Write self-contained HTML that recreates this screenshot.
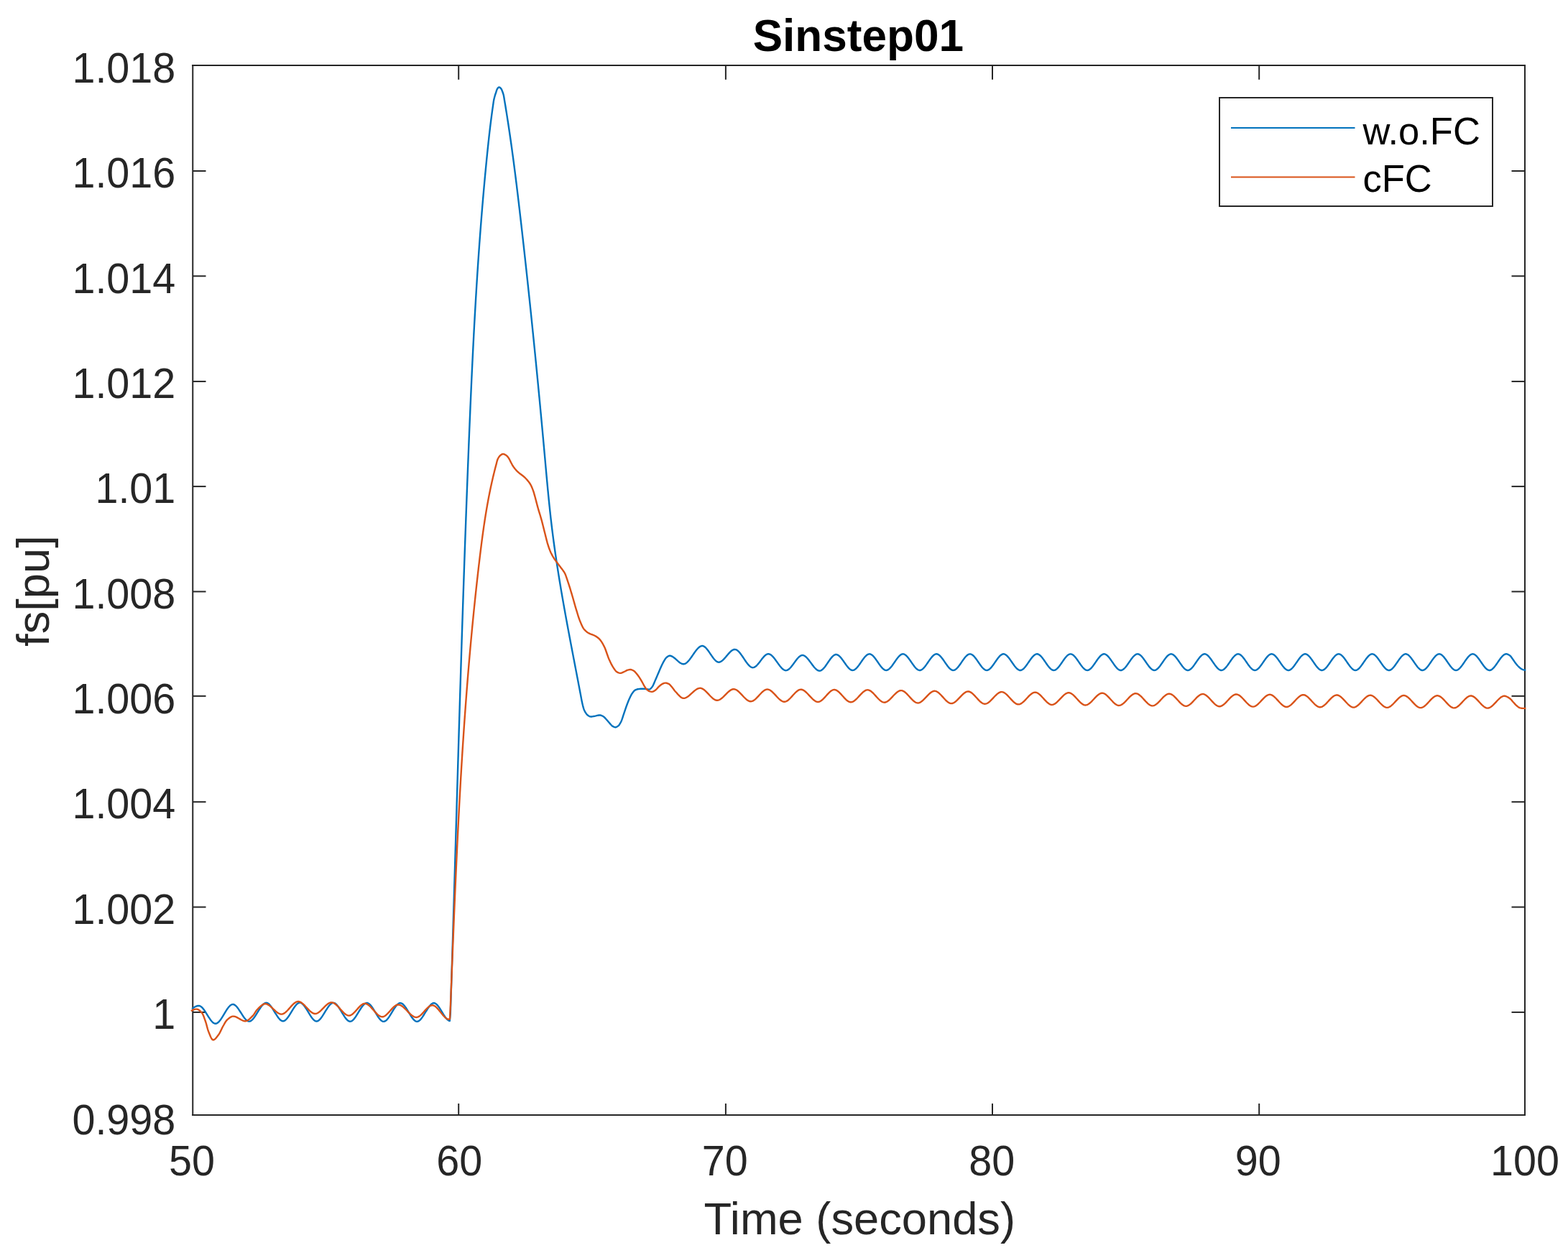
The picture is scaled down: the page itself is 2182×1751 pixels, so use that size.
<!DOCTYPE html>
<html lang="en"><head><meta charset="utf-8"><title>Sinstep01</title>
<style>html,body{margin:0;padding:0;background:#fff;overflow:hidden}svg{display:block}text{font-family:'Liberation Sans', Arial, Helvetica, sans-serif;fill:#262626}.k{fill:#000}</style></head><body>
<svg width="2182" height="1751" viewBox="0 0 2182 1751" role="img" aria-label="Sinstep01: fs[pu] versus Time (seconds)">
<rect x="0" y="0" width="2182" height="1751" fill="#ffffff"/>
<g stroke="#262626" stroke-width="2.00" fill="none">
<path shape-rendering="crispEdges" d="M267.0 91.0H2122.0V1552.0H267.0"/>
<line x1="268.25" y1="90.0" x2="268.25" y2="1553.0"/>
<line x1="638.20" y1="1552.0" x2="638.20" y2="1536.0"/>
<line x1="638.20" y1="91.0" x2="638.20" y2="110.8"/>
<line x1="1009.90" y1="1552.0" x2="1009.90" y2="1536.0"/>
<line x1="1009.90" y1="91.0" x2="1009.90" y2="110.8"/>
<line x1="1381.00" y1="1552.0" x2="1381.00" y2="1536.0"/>
<line x1="1381.00" y1="91.0" x2="1381.00" y2="110.8"/>
<line x1="1752.20" y1="1552.0" x2="1752.20" y2="1536.0"/>
<line x1="1752.20" y1="91.0" x2="1752.20" y2="110.8"/>
<line x1="268.0" y1="1408.93" x2="286.5" y2="1408.93"/>
<line x1="2122.0" y1="1408.93" x2="2103.5" y2="1408.93"/>
<line x1="268.0" y1="1262.55" x2="286.5" y2="1262.55"/>
<line x1="2122.0" y1="1262.55" x2="2103.5" y2="1262.55"/>
<line x1="268.0" y1="1116.20" x2="286.5" y2="1116.20"/>
<line x1="2122.0" y1="1116.20" x2="2103.5" y2="1116.20"/>
<line x1="268.0" y1="968.85" x2="286.5" y2="968.85"/>
<line x1="2122.0" y1="968.85" x2="2103.5" y2="968.85"/>
<line x1="268.0" y1="823.45" x2="286.5" y2="823.45"/>
<line x1="2122.0" y1="823.45" x2="2103.5" y2="823.45"/>
<line x1="268.0" y1="677.10" x2="286.5" y2="677.10"/>
<line x1="2122.0" y1="677.10" x2="2103.5" y2="677.10"/>
<line x1="268.0" y1="530.93" x2="286.5" y2="530.93"/>
<line x1="2122.0" y1="530.93" x2="2103.5" y2="530.93"/>
<line x1="268.0" y1="384.30" x2="286.5" y2="384.30"/>
<line x1="2122.0" y1="384.30" x2="2103.5" y2="384.30"/>
<line x1="268.0" y1="238.00" x2="286.5" y2="238.00"/>
<line x1="2122.0" y1="238.00" x2="2103.5" y2="238.00"/>
</g>
<g>
<text transform="translate(267.10 1636.40) scale(1 1.02)" font-size="57.50" text-anchor="middle">50</text>
<text transform="translate(639.30 1636.40) scale(1 1.02)" font-size="57.50" text-anchor="middle">60</text>
<text transform="translate(1008.70 1636.40) scale(1 1.02)" font-size="57.50" text-anchor="middle">70</text>
<text transform="translate(1380.20 1636.40) scale(1 1.02)" font-size="57.50" text-anchor="middle">80</text>
<text transform="translate(1750.80 1636.40) scale(1 1.02)" font-size="57.50" text-anchor="middle">90</text>
<text transform="translate(2122.00 1636.40) scale(1 1.02)" font-size="57.50" text-anchor="middle">100</text>
<text transform="translate(244.30 1578.60) scale(1 1.02)" font-size="57.50" text-anchor="end">0.998</text>
<text transform="translate(244.30 1432.23) scale(1 1.02)" font-size="57.50" text-anchor="end">1</text>
<text transform="translate(244.30 1285.86) scale(1 1.02)" font-size="57.50" text-anchor="end">1.002</text>
<text transform="translate(244.30 1139.49) scale(1 1.02)" font-size="57.50" text-anchor="end">1.004</text>
<text transform="translate(244.30 993.12) scale(1 1.02)" font-size="57.50" text-anchor="end">1.006</text>
<text transform="translate(244.30 846.75) scale(1 1.02)" font-size="57.50" text-anchor="end">1.008</text>
<text transform="translate(244.30 700.38) scale(1 1.02)" font-size="57.50" text-anchor="end">1.01</text>
<text transform="translate(244.30 554.01) scale(1 1.02)" font-size="57.50" text-anchor="end">1.012</text>
<text transform="translate(244.30 407.64) scale(1 1.02)" font-size="57.50" text-anchor="end">1.014</text>
<text transform="translate(244.30 261.27) scale(1 1.02)" font-size="57.50" text-anchor="end">1.016</text>
<text transform="translate(244.30 114.90) scale(1 1.02)" font-size="57.50" text-anchor="end">1.018</text>
</g>
<text transform="translate(1196.30 1717.50)" font-size="63.25" text-anchor="middle">Time (seconds)</text>
<text transform="translate(68.40 822.60) rotate(-90)" font-size="63.25" text-anchor="middle">fs[pu]</text>
<text transform="translate(1194.30 70.60) scale(1 1.025)" font-size="62.10" text-anchor="middle" font-weight="bold" class="k">Sinstep01</text>
<g fill="none" stroke-width="2.4" stroke-linejoin="round" stroke-linecap="butt">
<path stroke="#0072BD" d="M267.20 1404.50L268.20 1403.61L269.20 1402.81L270.20 1402.10L271.20 1401.48L272.20 1400.97L273.20 1400.55L274.20 1400.23L275.20 1400.02L276.20 1399.91L277.20 1399.93L278.20 1400.20L279.20 1400.71L280.20 1401.43L281.20 1402.35L282.20 1403.43L283.12 1404.57L283.99 1405.74L284.83 1406.93L285.64 1408.15L286.43 1409.37L287.21 1410.61L287.98 1411.84L288.75 1413.08L289.52 1414.30L290.29 1415.52L291.07 1416.72L291.86 1417.91L292.68 1419.06L293.52 1420.18L294.39 1421.26L295.32 1422.27L296.31 1423.19L297.31 1423.94L298.31 1424.46L299.31 1424.75L300.31 1424.78L301.31 1424.54L302.31 1424.05L303.31 1423.34L304.31 1422.43L305.31 1421.35L306.23 1420.21L307.10 1419.03L307.93 1417.83L308.74 1416.60L309.52 1415.36L310.29 1414.12L311.04 1412.86L311.79 1411.61L312.54 1410.36L313.29 1409.11L314.04 1407.88L314.81 1406.66L315.58 1405.45L316.38 1404.27L317.19 1403.13L318.04 1402.02L318.93 1400.97L319.88 1399.99L320.88 1399.14L321.88 1398.49L322.88 1398.07L323.88 1397.90L324.88 1398.00L325.88 1398.36L326.88 1398.95L327.88 1399.75L328.88 1400.72L329.85 1401.82L330.76 1402.97L331.62 1404.14L332.45 1405.34L333.26 1406.55L334.06 1407.77L334.84 1409.00L335.62 1410.22L336.40 1411.44L337.18 1412.65L337.97 1413.84L338.77 1415.02L339.59 1416.16L340.44 1417.27L341.33 1418.33L342.27 1419.33L343.27 1420.23L344.27 1420.94L345.27 1421.43L346.27 1421.67L347.27 1421.66L348.27 1421.38L349.27 1420.86L350.27 1420.13L351.27 1419.21L352.26 1418.12L353.18 1416.98L354.05 1415.81L354.89 1414.61L355.70 1413.39L356.49 1412.16L357.26 1410.93L358.03 1409.68L358.79 1408.44L359.55 1407.21L360.31 1405.98L361.08 1404.76L361.86 1403.56L362.66 1402.38L363.48 1401.23L364.33 1400.13L365.21 1399.07L366.15 1398.08L367.15 1397.19L368.15 1396.51L369.15 1396.04L370.15 1395.82L371.15 1395.86L372.15 1396.17L373.15 1396.72L374.15 1397.48L375.15 1398.44L376.13 1399.54L377.04 1400.69L377.90 1401.88L378.72 1403.08L379.52 1404.31L380.30 1405.54L381.07 1406.79L381.83 1408.03L382.59 1409.27L383.35 1410.51L384.11 1411.74L384.88 1412.95L385.67 1414.15L386.47 1415.31L387.30 1416.45L388.16 1417.54L389.06 1418.57L390.03 1419.52L391.03 1420.31L392.03 1420.88L393.03 1421.22L394.03 1421.29L395.03 1421.09L396.03 1420.64L397.03 1419.96L398.03 1419.08L399.03 1418.02L399.97 1416.89L400.84 1415.72L401.68 1414.52L402.49 1413.30L403.28 1412.07L404.05 1410.82L404.81 1409.58L405.57 1408.33L406.33 1407.09L407.08 1405.86L407.85 1404.63L408.62 1403.43L409.41 1402.24L410.23 1401.09L411.07 1399.97L411.95 1398.90L412.88 1397.91L413.88 1397.01L414.88 1396.31L415.88 1395.84L416.88 1395.61L417.88 1395.66L418.88 1395.98L419.88 1396.55L420.88 1397.33L421.88 1398.31L422.84 1399.42L423.74 1400.58L424.60 1401.77L425.41 1402.99L426.21 1404.22L426.98 1405.46L427.74 1406.71L428.50 1407.96L429.25 1409.21L430.00 1410.46L430.75 1411.69L431.51 1412.92L432.29 1414.12L433.08 1415.30L433.90 1416.44L434.75 1417.55L435.64 1418.59L436.59 1419.56L437.59 1420.39L438.59 1421.01L439.59 1421.39L440.59 1421.50L441.59 1421.34L442.59 1420.92L443.59 1420.27L444.59 1419.41L445.59 1418.38L446.54 1417.25L447.42 1416.08L448.26 1414.89L449.08 1413.67L449.87 1412.44L450.64 1411.20L451.41 1409.96L452.16 1408.71L452.92 1407.47L453.68 1406.23L454.44 1405.01L455.21 1403.80L456.00 1402.61L456.81 1401.45L457.65 1400.33L458.52 1399.25L459.44 1398.24L460.43 1397.33L461.43 1396.60L462.43 1396.09L463.43 1395.83L464.43 1395.84L465.43 1396.12L466.43 1396.65L467.43 1397.41L468.43 1398.37L469.41 1399.47L470.31 1400.63L471.17 1401.82L471.99 1403.03L472.79 1404.26L473.56 1405.50L474.32 1406.75L475.08 1408.01L475.82 1409.26L476.57 1410.51L477.32 1411.75L478.08 1412.97L478.85 1414.18L479.64 1415.37L480.45 1416.52L481.29 1417.64L482.18 1418.70L483.11 1419.68L484.11 1420.55L485.11 1421.21L486.11 1421.64L487.11 1421.80L488.11 1421.68L489.11 1421.31L490.11 1420.70L491.11 1419.88L492.11 1418.86L493.07 1417.75L493.96 1416.59L494.81 1415.39L495.62 1414.18L496.42 1412.95L497.19 1411.71L497.95 1410.46L498.71 1409.21L499.47 1407.97L500.22 1406.73L500.98 1405.50L501.75 1404.28L502.53 1403.09L503.33 1401.92L504.16 1400.79L505.02 1399.70L505.93 1398.67L506.90 1397.73L507.90 1396.95L508.90 1396.39L509.90 1396.07L510.90 1396.01L511.90 1396.24L512.90 1396.72L513.90 1397.43L514.90 1398.34L515.90 1399.43L516.82 1400.58L517.68 1401.76L518.51 1402.97L519.30 1404.20L520.08 1405.44L520.85 1406.69L521.60 1407.95L522.35 1409.20L523.10 1410.45L523.85 1411.69L524.61 1412.92L525.37 1414.13L526.16 1415.32L526.96 1416.48L527.80 1417.60L528.68 1418.67L529.61 1419.67L530.61 1420.56L531.61 1421.25L532.61 1421.70L533.61 1421.89L534.61 1421.81L535.61 1421.46L536.61 1420.87L537.61 1420.06L538.61 1419.06L539.56 1417.94L540.46 1416.78L541.31 1415.59L542.12 1414.38L542.91 1413.14L543.69 1411.90L544.45 1410.65L545.21 1409.40L545.96 1408.16L546.71 1406.91L547.47 1405.68L548.23 1404.46L549.01 1403.27L549.81 1402.09L550.64 1400.96L551.49 1399.86L552.40 1398.83L553.36 1397.88L554.36 1397.08L555.36 1396.51L556.36 1396.18L557.36 1396.11L558.36 1396.32L559.36 1396.79L560.36 1397.49L561.36 1398.39L562.36 1399.48L563.28 1400.62L564.15 1401.80L564.98 1403.01L565.78 1404.24L566.56 1405.47L567.33 1406.72L568.08 1407.97L568.84 1409.23L569.59 1410.47L570.34 1411.71L571.10 1412.94L571.87 1414.15L572.65 1415.34L573.46 1416.50L574.30 1417.61L575.18 1418.68L576.11 1419.68L577.11 1420.57L578.11 1421.25L579.11 1421.70L580.11 1421.89L581.11 1421.81L582.11 1421.47L583.11 1420.88L584.11 1420.09L585.11 1419.10L586.07 1417.99L586.97 1416.84L587.83 1415.65L588.65 1414.44L589.45 1413.22L590.23 1411.98L590.99 1410.74L591.75 1409.49L592.51 1408.24L593.27 1407.01L594.03 1405.78L594.80 1404.56L595.58 1403.37L596.38 1402.20L597.20 1401.06L598.06 1399.96L598.96 1398.93L599.93 1397.97L600.93 1397.16L601.93 1396.57L602.93 1396.20L603.93 1396.10L604.93 1396.28L605.93 1396.73L606.93 1397.41L607.93 1398.31L608.93 1399.39L609.85 1400.53L610.72 1401.71L611.55 1402.92L612.35 1404.15L613.13 1405.39L613.89 1406.63L614.65 1407.88L615.40 1409.13L616.15 1410.38L616.91 1411.61L617.68 1412.83L618.45 1414.03L619.25 1415.20L620.07 1416.34L620.93 1417.43L621.84 1418.45L622.81 1419.39L623.81 1420.15L624.81 1420.69L625.81 1420.97L626.81 1410.63L626.89 1408.14L626.97 1405.65L627.05 1403.15L627.13 1400.65L627.21 1398.14L627.29 1395.63L627.37 1393.12L627.45 1390.60L627.53 1388.08L627.61 1385.56L627.69 1383.03L627.77 1380.50L627.85 1377.96L627.93 1375.42L628.01 1372.88L628.09 1370.34L628.17 1367.79L628.25 1365.23L628.33 1362.68L628.41 1360.12L628.49 1357.55L628.57 1354.99L628.65 1352.42L628.73 1349.84L628.81 1347.27L628.89 1344.69L628.97 1342.10L629.05 1339.52L629.13 1336.93L629.21 1334.33L629.29 1331.74L629.37 1329.14L629.45 1326.54L629.53 1323.93L629.61 1321.32L629.69 1318.71L629.77 1316.10L629.85 1313.48L629.93 1310.86L630.01 1308.24L630.09 1305.62L630.17 1302.99L630.25 1300.36L630.33 1297.72L630.41 1295.09L630.49 1292.45L630.57 1289.81L630.65 1287.16L630.73 1284.52L630.81 1281.87L630.89 1279.22L630.97 1276.57L631.05 1273.91L631.13 1271.25L631.21 1268.59L631.29 1265.93L631.37 1263.27L631.45 1260.60L631.53 1257.93L631.61 1255.26L631.69 1252.59L631.77 1249.92L631.85 1247.24L631.93 1244.56L632.01 1241.88L632.09 1239.20L632.17 1236.52L632.25 1233.83L632.33 1231.15L632.41 1228.46L632.49 1225.77L632.57 1223.08L632.65 1220.39L632.73 1217.70L632.81 1215.00L632.89 1212.31L632.97 1209.61L633.05 1206.91L633.13 1204.21L633.21 1201.51L633.29 1198.81L633.37 1196.11L633.45 1193.41L633.53 1190.70L633.61 1188.00L633.69 1185.29L633.77 1182.59L633.85 1179.88L633.93 1177.17L634.01 1174.47L634.09 1171.76L634.17 1169.05L634.25 1166.34L634.33 1163.63L634.41 1160.92L634.49 1158.21L634.57 1155.50L634.65 1152.79L634.73 1150.08L634.81 1147.37L634.89 1144.66L634.97 1141.95L635.05 1139.24L635.13 1136.53L635.21 1133.83L635.29 1131.12L635.37 1128.41L635.45 1125.70L635.53 1122.99L635.61 1120.29L635.69 1117.58L635.77 1114.87L635.85 1112.17L635.93 1109.46L636.01 1106.76L636.09 1104.06L636.17 1101.36L636.25 1098.66L636.33 1095.96L636.41 1093.26L636.49 1090.56L636.57 1087.86L636.65 1085.17L636.73 1082.47L636.81 1079.78L636.89 1077.09L636.97 1074.40L637.05 1071.71L637.13 1069.02L637.21 1066.34L637.29 1063.65L637.37 1060.97L637.45 1058.29L637.53 1055.61L637.61 1052.93L637.69 1050.26L637.77 1047.58L637.85 1044.91L637.93 1042.24L638.01 1039.57L638.09 1036.91L638.17 1034.24L638.25 1031.58L638.33 1028.92L638.41 1026.27L638.49 1023.61L638.57 1020.96L638.65 1018.31L638.73 1015.66L638.81 1013.01L638.89 1010.37L638.97 1007.73L639.05 1005.09L639.13 1002.46L639.21 999.82L639.29 997.19L639.37 994.57L639.45 991.94L639.53 989.32L639.61 986.70L639.69 984.08L639.77 981.47L639.85 978.86L639.93 976.25L640.01 973.65L640.09 971.05L640.17 968.45L640.25 965.85L640.33 963.26L640.41 960.67L640.49 958.09L640.57 955.50L640.65 952.92L640.73 950.35L640.81 947.78L640.89 945.21L640.97 942.64L641.05 940.08L641.13 937.52L641.21 934.96L641.29 932.41L641.37 929.86L641.45 927.32L641.53 924.77L641.61 922.24L641.69 919.70L641.77 917.17L641.85 914.64L641.93 912.12L642.01 909.60L642.09 907.08L642.17 904.57L642.25 902.06L642.33 899.56L642.41 897.06L642.49 894.56L642.57 892.07L642.65 889.58L642.73 887.09L642.81 884.61L642.89 882.13L642.97 879.66L643.05 877.19L643.13 874.73L643.21 872.26L643.29 869.81L643.37 867.35L643.45 864.90L643.53 862.46L643.61 860.02L643.69 857.58L643.77 855.15L643.85 852.72L643.93 850.29L644.01 847.87L644.09 845.45L644.17 843.04L644.25 840.63L644.33 838.23L644.41 835.83L644.49 833.43L644.57 831.04L644.65 828.65L644.73 826.27L644.81 823.89L644.89 821.52L644.97 819.15L645.05 816.78L645.13 814.42L645.21 812.06L645.29 809.71L645.37 807.36L645.45 805.02L645.53 802.68L645.61 800.34L645.69 798.01L645.77 795.68L645.85 793.36L645.93 791.04L646.01 788.73L646.09 786.42L646.17 784.11L646.25 781.81L646.33 779.51L646.41 777.22L646.49 774.93L646.57 772.65L646.65 770.37L646.73 768.09L646.81 765.82L646.89 763.56L646.97 761.29L647.05 759.04L647.13 756.78L647.21 754.53L647.29 752.29L647.37 750.05L647.45 747.81L647.53 745.58L647.61 743.35L647.69 741.13L647.77 738.91L647.85 736.70L647.93 734.49L648.01 732.28L648.09 730.08L648.17 727.89L648.25 725.69L648.33 723.51L648.41 721.32L648.49 719.14L648.57 716.97L648.65 714.80L648.73 712.63L648.81 710.47L648.89 708.31L648.97 706.16L649.05 704.01L649.13 701.86L649.21 699.72L649.29 697.59L649.37 695.45L649.45 693.33L649.53 691.20L649.61 689.08L649.69 686.97L649.77 684.86L649.85 682.75L649.93 680.65L650.01 678.55L650.09 676.46L650.17 674.37L650.25 672.28L650.33 670.20L650.41 668.12L650.49 666.05L650.57 663.98L650.65 661.92L650.73 659.86L650.81 657.80L650.89 655.75L650.97 653.70L651.05 651.66L651.13 649.62L651.21 647.58L651.29 645.55L651.37 643.52L651.45 641.50L651.53 639.48L651.61 637.46L651.69 635.45L651.77 633.44L651.85 631.44L651.93 629.44L652.01 627.45L652.09 625.46L652.17 623.47L652.25 621.49L652.33 619.51L652.41 617.53L652.49 615.56L652.57 613.60L652.65 611.63L652.73 609.67L652.81 607.72L652.89 605.77L652.97 603.82L653.05 601.88L653.13 599.94L653.21 598.00L653.29 596.07L653.37 594.15L653.45 592.23L653.53 590.31L653.61 588.39L653.69 586.48L653.77 584.56L653.85 582.64L653.94 580.73L654.02 578.81L654.10 576.89L654.18 574.98L654.26 573.06L654.34 571.15L654.43 569.23L654.51 567.32L654.59 565.40L654.67 563.49L654.76 561.57L654.84 559.66L654.93 557.75L655.01 555.83L655.09 553.92L655.18 552.01L655.26 550.10L655.35 548.18L655.43 546.27L655.52 544.36L655.60 542.45L655.69 540.54L655.78 538.63L655.86 536.72L655.95 534.81L656.04 532.90L656.12 530.99L656.21 529.08L656.30 527.17L656.39 525.27L656.48 523.36L656.57 521.45L656.66 519.54L656.75 517.64L656.84 515.73L656.93 513.83L657.02 511.92L657.11 510.01L657.20 508.11L657.29 506.20L657.38 504.30L657.48 502.40L657.57 500.49L657.66 498.59L657.75 496.69L657.85 494.79L657.94 492.88L658.04 490.98L658.13 489.08L658.23 487.18L658.32 485.28L658.42 483.38L658.52 481.48L658.61 479.58L658.71 477.68L658.81 475.78L658.91 473.89L659.00 471.99L659.10 470.09L659.20 468.20L659.30 466.30L659.40 464.40L659.50 462.51L659.60 460.61L659.70 458.72L659.81 456.83L659.91 454.93L660.01 453.04L660.11 451.15L660.22 449.25L660.32 447.36L660.43 445.47L660.53 443.58L660.64 441.69L660.74 439.80L660.85 437.91L660.96 436.02L661.06 434.13L661.17 432.25L661.28 430.36L661.39 428.47L661.50 426.59L661.61 424.70L661.72 422.81L661.83 420.93L661.94 419.05L662.05 417.16L662.16 415.28L662.28 413.40L662.39 411.51L662.50 409.63L662.62 407.75L662.73 405.87L662.85 403.99L662.96 402.11L663.08 400.23L663.19 398.35L663.31 396.47L663.43 394.60L663.55 392.72L663.67 390.84L663.79 388.97L663.91 387.09L664.03 385.22L664.15 383.34L664.27 381.47L664.39 379.60L664.52 377.72L664.64 375.85L664.76 373.98L664.89 372.11L665.01 370.24L665.14 368.37L665.27 366.50L665.39 364.63L665.52 362.76L665.65 360.90L665.78 359.03L665.91 357.16L666.04 355.30L666.17 353.43L666.30 351.57L666.43 349.71L666.56 347.84L666.69 345.98L666.83 344.12L666.96 342.26L667.10 340.40L667.23 338.54L667.37 336.68L667.51 334.82L667.64 332.96L667.78 331.10L667.92 329.25L668.06 327.39L668.20 325.53L668.34 323.68L668.48 321.83L668.62 319.97L668.76 318.12L668.91 316.27L669.05 314.42L669.20 312.56L669.34 310.71L669.49 308.86L669.63 307.02L669.78 305.17L669.93 303.32L670.08 301.47L670.23 299.63L670.38 297.78L670.53 295.94L670.68 294.09L670.83 292.25L670.98 290.41L671.13 288.56L671.29 286.72L671.44 284.88L671.60 283.04L671.76 281.20L671.91 279.36L672.07 277.52L672.23 275.69L672.39 273.85L672.55 272.02L672.71 270.18L672.87 268.35L673.03 266.51L673.19 264.68L673.36 262.85L673.52 261.02L673.68 259.18L673.85 257.35L674.02 255.53L674.18 253.70L674.35 251.87L674.52 250.04L674.69 248.22L674.86 246.39L675.03 244.57L675.20 242.74L675.37 240.92L675.55 239.10L675.72 237.27L675.89 235.45L676.07 233.63L676.25 231.81L676.42 229.99L676.60 228.18L676.78 226.36L676.96 224.54L677.14 222.73L677.32 220.91L677.50 219.10L677.68 217.28L677.87 215.47L678.05 213.66L678.23 211.85L678.42 210.04L678.61 208.24L678.80 206.43L678.98 204.62L679.17 202.82L679.37 201.02L679.56 199.22L679.75 197.42L679.95 195.62L680.15 193.83L680.34 192.03L680.54 190.24L680.75 188.45L680.95 186.66L681.15 184.87L681.36 183.09L681.57 181.31L681.78 179.52L681.99 177.74L682.20 175.97L682.42 174.19L682.64 172.42L682.86 170.65L683.08 168.88L683.30 167.11L683.53 165.35L683.76 163.59L683.99 161.83L684.22 160.07L684.46 158.32L684.69 156.56L684.93 154.81L685.18 153.07L685.42 151.32L685.67 149.58L685.92 147.84L686.17 146.10L686.42 144.30L686.66 142.56L686.91 140.89L687.18 139.37L687.53 137.79L687.90 136.23L688.30 134.71L688.73 133.21L689.19 131.73L689.68 130.25L690.18 128.76L690.68 127.23L691.16 125.71L691.66 124.35L692.26 123.35L693.10 122.30L694.07 121.53L695.07 121.48L696.07 122.12L697.07 123.18L697.98 124.49L698.65 126.06L699.20 127.54L699.75 129.00L700.28 130.58L700.75 132.28L701.15 134.21L701.45 136.03L701.72 137.78L701.99 139.46L702.28 141.16L702.56 142.88L702.85 144.60L703.14 146.32L703.42 148.04L703.70 149.76L703.98 151.49L704.26 153.21L704.54 154.94L704.82 156.67L705.09 158.40L705.37 160.13L705.64 161.86L705.91 163.59L706.18 165.32L706.45 167.06L706.72 168.79L706.99 170.53L707.25 172.27L707.52 174.01L707.78 175.75L708.04 177.49L708.30 179.24L708.56 180.98L708.82 182.73L709.08 184.48L709.34 186.22L709.59 187.97L709.85 189.72L710.10 191.47L710.35 193.23L710.60 194.98L710.85 196.73L711.10 198.49L711.35 200.25L711.59 202.00L711.84 203.76L712.08 205.52L712.33 207.28L712.57 209.04L712.81 210.81L713.05 212.57L713.29 214.33L713.53 216.10L713.77 217.86L714.01 219.63L714.24 221.40L714.48 223.17L714.71 224.94L714.95 226.71L715.18 228.48L715.41 230.25L715.64 232.02L715.87 233.80L716.10 235.57L716.33 237.35L716.55 239.12L716.78 240.90L717.01 242.68L717.23 244.46L717.46 246.24L717.68 248.01L717.90 249.80L718.13 251.58L718.35 253.36L718.57 255.14L718.79 256.92L719.01 258.71L719.23 260.49L719.44 262.28L719.66 264.06L719.88 265.85L720.10 267.63L720.31 269.42L720.53 271.21L720.74 272.99L720.96 274.78L721.17 276.57L721.38 278.36L721.59 280.15L721.81 281.94L722.02 283.73L722.23 285.52L722.44 287.31L722.65 289.11L722.86 290.90L723.07 292.69L723.28 294.48L723.49 296.28L723.70 298.07L723.90 299.86L724.11 301.66L724.32 303.45L724.52 305.25L724.73 307.04L724.94 308.84L725.14 310.63L725.35 312.43L725.56 314.22L725.76 316.02L725.97 317.82L726.17 319.61L726.37 321.41L726.58 323.21L726.78 325.00L726.99 326.80L727.19 328.60L727.39 330.40L727.60 332.20L727.80 333.99L728.00 335.79L728.20 337.59L728.40 339.39L728.61 341.19L728.81 342.99L729.01 344.79L729.21 346.59L729.41 348.39L729.61 350.19L729.81 351.99L730.01 353.80L730.21 355.60L730.41 357.40L730.61 359.20L730.81 361.00L731.01 362.81L731.20 364.61L731.40 366.41L731.60 368.22L731.80 370.02L731.99 371.82L732.19 373.63L732.39 375.43L732.58 377.24L732.78 379.04L732.98 380.85L733.17 382.65L733.37 384.46L733.56 386.27L733.76 388.07L733.95 389.88L734.15 391.68L734.34 393.49L734.54 395.30L734.73 397.11L734.92 398.91L735.12 400.72L735.31 402.53L735.50 404.34L735.70 406.15L735.89 407.96L736.08 409.76L736.27 411.57L736.46 413.38L736.66 415.19L736.85 417.00L737.04 418.81L737.23 420.62L737.42 422.44L737.61 424.25L737.80 426.06L737.99 427.87L738.18 429.68L738.37 431.49L738.56 433.31L738.75 435.12L738.93 436.93L739.12 438.74L739.31 440.56L739.50 442.37L739.69 444.18L739.87 446.00L740.06 447.81L740.25 449.63L740.43 451.44L740.62 453.26L740.81 455.07L740.99 456.89L741.18 458.70L741.36 460.52L741.55 462.33L741.73 464.15L741.92 465.97L742.10 467.78L742.29 469.60L742.47 471.42L742.66 473.23L742.84 475.05L743.02 476.87L743.21 478.69L743.39 480.50L743.57 482.32L743.75 484.14L743.94 485.96L744.12 487.78L744.30 489.60L744.48 491.42L744.66 493.24L744.85 495.06L745.03 496.88L745.21 498.70L745.39 500.52L745.57 502.34L745.75 504.16L745.93 505.98L746.11 507.81L746.29 509.63L746.47 511.45L746.65 513.27L746.82 515.09L747.00 516.92L747.18 518.74L747.36 520.56L747.54 522.39L747.71 524.21L747.89 526.03L748.07 527.86L748.25 529.68L748.42 531.51L748.60 533.33L748.78 535.16L748.95 536.98L749.13 538.81L749.30 540.63L749.48 542.46L749.65 544.28L749.83 546.11L750.00 547.93L750.18 549.76L750.35 551.59L750.53 553.41L750.70 555.24L750.88 557.07L751.05 558.90L751.22 560.72L751.40 562.55L751.57 564.38L751.74 566.21L751.91 568.04L752.09 569.87L752.26 571.70L752.43 573.52L752.60 575.35L752.77 577.18L752.95 579.01L753.12 580.84L753.29 582.67L753.46 584.50L753.63 586.34L753.80 588.17L753.97 590.00L754.14 591.83L754.31 593.66L754.48 595.49L754.65 597.32L754.82 599.16L754.99 600.99L755.16 602.82L755.32 604.65L755.49 606.49L755.66 608.32L755.83 610.15L756.00 611.98L756.16 613.82L756.33 615.65L756.50 617.49L756.67 619.32L756.83 621.15L757.00 622.99L757.17 624.82L757.33 626.66L757.50 628.49L757.66 630.33L757.83 632.16L757.99 634.00L758.16 635.84L758.33 637.67L758.49 639.51L758.66 641.34L758.82 643.18L758.98 645.01L759.15 646.85L759.31 648.68L759.48 650.51L759.65 652.35L759.81 654.18L759.98 656.01L760.14 657.84L760.31 659.67L760.48 661.51L760.64 663.34L760.81 665.17L760.98 666.99L761.15 668.82L761.32 670.65L761.49 672.47L761.66 674.30L761.83 676.12L762.00 677.95L762.18 679.77L762.35 681.59L762.53 683.41L762.70 685.23L762.88 687.04L763.06 688.86L763.24 690.68L763.42 692.49L763.60 694.30L763.78 696.11L763.96 697.92L764.15 699.73L764.33 701.54L764.52 703.35L764.71 705.15L764.90 706.95L765.09 708.75L765.28 710.55L765.48 712.35L765.67 714.15L765.87 715.94L766.07 717.74L766.27 719.53L766.47 721.32L766.67 723.10L766.88 724.89L767.09 726.67L767.30 728.46L767.51 730.24L767.72 732.02L767.94 733.79L768.15 735.57L768.37 737.34L768.59 739.11L768.81 740.88L769.04 742.65L769.26 744.41L769.49 746.18L769.72 747.94L769.95 749.70L770.19 751.46L770.42 753.22L770.66 754.97L770.90 756.73L771.14 758.48L771.38 760.23L771.62 761.98L771.87 763.73L772.11 765.48L772.36 767.22L772.61 768.96L772.86 770.71L773.12 772.45L773.37 774.19L773.63 775.92L773.89 777.66L774.14 779.40L774.41 781.13L774.67 782.86L774.93 784.60L775.20 786.33L775.46 788.05L775.73 789.78L776.00 791.51L776.27 793.23L776.54 794.96L776.81 796.68L777.08 798.40L777.36 800.12L777.64 801.84L777.91 803.56L778.19 805.28L778.47 806.99L778.75 808.71L779.04 810.42L779.32 812.14L779.60 813.85L779.89 815.56L780.17 817.27L780.46 818.98L780.75 820.68L781.04 822.39L781.33 824.10L781.62 825.80L781.92 827.51L782.21 829.21L782.50 830.91L782.80 832.61L783.10 834.31L783.39 836.01L783.69 837.71L783.99 839.41L784.29 841.11L784.59 842.80L784.89 844.50L785.19 846.20L785.50 847.89L785.80 849.58L786.11 851.28L786.41 852.97L786.72 854.66L787.02 856.35L787.33 858.04L787.64 859.73L787.95 861.42L788.26 863.11L788.57 864.80L788.88 866.48L789.19 868.17L789.50 869.86L789.81 871.54L790.13 873.23L790.44 874.91L790.76 876.60L791.07 878.28L791.38 879.96L791.70 881.65L792.02 883.33L792.33 885.01L792.65 886.70L792.97 888.38L793.28 890.06L793.60 891.74L793.92 893.42L794.24 895.10L794.56 896.78L794.88 898.46L795.20 900.14L795.52 901.82L795.84 903.50L796.16 905.18L796.48 906.86L796.80 908.53L797.12 910.21L797.44 911.89L797.76 913.57L798.08 915.25L798.40 916.93L798.73 918.60L799.05 920.28L799.37 921.96L799.69 923.64L800.01 925.32L800.34 926.99L800.66 928.67L800.98 930.35L801.30 932.03L801.62 933.70L801.95 935.38L802.27 937.06L802.59 938.74L802.91 940.42L803.23 942.10L803.56 943.77L803.88 945.45L804.20 947.13L804.52 948.81L804.84 950.49L805.16 952.17L805.48 953.85L805.80 955.53L806.12 957.21L806.44 958.89L806.76 960.57L807.08 962.26L807.40 963.94L807.72 965.62L808.04 967.30L808.36 968.98L808.68 970.71L808.98 972.40L809.29 974.06L809.61 975.67L809.96 977.28L810.31 978.91L810.68 980.51L811.05 982.10L811.45 983.64L811.86 985.14L812.32 986.56L812.84 987.96L813.41 989.30L814.04 990.55L814.75 991.73L815.53 992.90L816.35 994.01L817.24 995.01L818.24 995.82L819.24 996.46L820.24 997.01L821.24 997.38L822.24 997.50L823.24 997.45L824.24 997.34L825.24 997.18L826.24 997.00L827.24 996.81L828.24 996.63L829.24 996.44L830.24 996.20L831.24 995.94L832.24 995.70L833.24 995.51L834.24 995.41L835.24 995.45L836.24 995.68L837.24 996.06L838.24 996.52L839.24 997.02L840.24 997.72L841.24 998.63L842.24 999.67L843.20 1000.72L844.15 1001.75L845.13 1002.82L846.06 1003.91L846.97 1005.01L847.88 1006.08L848.81 1007.11L849.76 1008.20L850.69 1009.26L851.65 1010.21L852.65 1010.93L853.65 1011.46L854.65 1011.92L855.65 1012.22L856.65 1012.29L857.65 1012.04L858.65 1011.53L859.65 1010.86L860.65 1010.10L861.65 1008.98L862.50 1007.70L863.26 1006.38L863.97 1005.05L864.65 1003.65L865.26 1002.13L865.80 1000.60L866.31 999.06L866.80 997.53L867.28 996.01L867.76 994.51L868.25 993.05L868.77 991.55L869.27 990.05L869.78 988.55L870.28 987.06L870.79 985.58L871.30 984.11L871.82 982.65L872.36 981.21L872.90 979.76L873.45 978.32L874.01 976.90L874.57 975.49L875.15 974.10L875.75 972.74L876.38 971.40L877.02 970.05L877.67 968.73L878.34 967.45L879.04 966.21L879.80 965.05L880.62 963.91L881.47 962.80L882.36 961.77L883.34 960.90L884.34 960.32L885.34 959.87L886.34 959.51L887.34 959.26L888.34 959.11L889.34 958.98L890.34 958.87L891.34 958.78L892.34 958.73L893.34 958.70L894.34 958.71L895.34 958.75L896.34 958.81L897.34 958.89L898.34 958.97L899.34 959.07L900.34 959.22L901.34 959.40L902.34 959.54L903.34 959.60L904.34 959.34L905.34 958.60L906.34 957.53L907.25 956.40L908.13 955.23L908.92 953.81L909.58 952.37L910.18 950.93L910.77 949.51L911.35 948.11L911.94 946.75L912.56 945.35L913.16 943.94L913.76 942.54L914.36 941.13L914.95 939.72L915.55 938.33L916.15 936.92L916.74 935.50L917.33 934.09L917.92 932.69L918.52 931.30L919.12 929.93L919.74 928.57L920.37 927.21L921.00 925.85L921.64 924.51L922.30 923.19L922.97 921.91L923.68 920.67L924.42 919.40L925.16 918.16L925.91 916.97L926.72 915.88L927.63 914.98L928.63 914.20L929.63 913.50L930.63 912.98L931.63 912.71L932.63 912.75L933.63 912.96L934.63 913.33L935.63 913.83L936.63 914.45L937.63 915.16L938.63 915.95L939.63 916.79L940.63 917.67L941.63 918.57L942.63 919.47L943.63 920.35L944.63 921.18L945.63 921.96L946.63 922.66L947.63 923.26L948.63 923.74L949.63 924.08L950.63 924.27L951.63 924.28L952.63 924.08L953.63 923.68L954.63 923.10L955.63 922.35L956.63 921.45L957.63 920.42L958.59 919.33L959.50 918.21L960.38 917.06L961.24 915.89L962.08 914.72L962.91 913.53L963.72 912.34L964.54 911.16L965.35 909.97L966.17 908.80L966.99 907.64L967.83 906.49L968.68 905.37L969.56 904.27L970.46 903.22L971.40 902.21L972.40 901.27L973.40 900.47L974.40 899.82L975.40 899.35L976.40 899.07L977.40 899.00L978.40 899.18L979.40 899.58L980.40 900.19L981.40 900.99L982.40 901.95L983.38 903.04L984.30 904.16L985.19 905.31L986.04 906.48L986.87 907.67L987.69 908.86L988.50 910.06L989.31 911.25L990.12 912.44L990.93 913.61L991.76 914.77L992.60 915.90L993.46 917.00L994.36 918.05L995.30 919.05L996.30 919.97L997.30 920.71L998.30 921.26L999.30 921.60L1000.30 921.70L1001.30 921.57L1002.30 921.25L1003.30 920.76L1004.30 920.11L1005.30 919.33L1006.30 918.43L1007.30 917.43L1008.28 916.38L1009.23 915.30L1010.16 914.22L1011.08 913.13L1011.99 912.04L1012.90 910.96L1013.82 909.89L1014.76 908.85L1015.71 907.84L1016.71 906.88L1017.71 906.01L1018.71 905.27L1019.71 904.67L1020.71 904.23L1021.71 903.97L1022.71 903.91L1023.71 904.07L1024.71 904.45L1025.71 905.03L1026.71 905.78L1027.71 906.69L1028.71 907.75L1029.65 908.86L1030.55 910.00L1031.42 911.16L1032.26 912.34L1033.08 913.54L1033.89 914.74L1034.69 915.94L1035.49 917.14L1036.29 918.34L1037.09 919.53L1037.90 920.70L1038.73 921.86L1039.57 922.99L1040.43 924.10L1041.32 925.16L1042.26 926.17L1043.25 927.11L1044.25 927.91L1045.25 928.53L1046.25 928.96L1047.25 929.18L1048.25 929.16L1049.25 928.92L1050.25 928.46L1051.25 927.82L1052.25 927.01L1053.25 926.06L1054.24 924.99L1055.18 923.90L1056.09 922.78L1056.98 921.64L1057.85 920.50L1058.71 919.36L1059.57 918.22L1060.43 917.10L1061.31 916.00L1062.21 914.92L1063.13 913.89L1064.09 912.91L1065.09 912.01L1066.09 911.27L1067.09 910.71L1068.09 910.35L1069.09 910.20L1070.09 910.29L1071.09 910.59L1072.09 911.09L1073.09 911.76L1074.09 912.59L1075.09 913.55L1076.08 914.62L1077.02 915.73L1077.92 916.86L1078.79 918.01L1079.64 919.17L1080.48 920.34L1081.32 921.51L1082.15 922.68L1082.98 923.84L1083.82 924.99L1084.67 926.13L1085.53 927.24L1086.42 928.32L1087.34 929.35L1088.30 930.34L1089.30 931.24L1090.30 931.99L1091.30 932.58L1092.30 932.98L1093.30 933.18L1094.30 933.16L1095.30 932.91L1096.30 932.45L1097.30 931.80L1098.30 931.00L1099.30 930.04L1100.29 928.98L1101.23 927.87L1102.13 926.74L1103.01 925.60L1103.86 924.44L1104.71 923.28L1105.55 922.12L1106.39 920.96L1107.24 919.82L1108.09 918.69L1108.96 917.58L1109.86 916.51L1110.78 915.49L1111.76 914.52L1112.76 913.66L1113.76 912.95L1114.76 912.43L1115.76 912.10L1116.76 912.00L1117.76 912.12L1118.76 912.46L1119.76 912.98L1120.76 913.68L1121.76 914.52L1122.76 915.50L1123.74 916.57L1124.67 917.67L1125.57 918.80L1126.45 919.94L1127.31 921.10L1128.16 922.25L1129.01 923.41L1129.85 924.56L1130.70 925.70L1131.56 926.82L1132.44 927.92L1133.34 928.99L1134.27 930.02L1135.24 930.99L1136.24 931.86L1137.24 932.59L1138.24 933.15L1139.24 933.52L1140.24 933.69L1141.24 933.63L1142.24 933.33L1143.24 932.81L1144.24 932.09L1145.24 931.20L1146.24 930.16L1147.19 929.06L1148.09 927.92L1148.96 926.75L1149.80 925.57L1150.62 924.38L1151.43 923.19L1152.24 921.99L1153.05 920.80L1153.86 919.62L1154.68 918.46L1155.51 917.31L1156.37 916.20L1157.25 915.12L1158.17 914.09L1159.14 913.14L1160.14 912.31L1161.14 911.67L1162.14 911.23L1163.14 911.02L1164.14 911.05L1165.14 911.32L1166.14 911.80L1167.14 912.48L1168.14 913.33L1169.14 914.32L1170.11 915.41L1171.03 916.53L1171.91 917.68L1172.77 918.84L1173.61 920.02L1174.44 921.20L1175.26 922.38L1176.09 923.55L1176.91 924.72L1177.75 925.86L1178.60 926.99L1179.47 928.09L1180.37 929.14L1181.31 930.15L1182.31 931.08L1183.31 931.85L1184.31 932.44L1185.31 932.83L1186.31 933.00L1187.31 932.92L1188.31 932.61L1189.31 932.10L1190.31 931.39L1191.31 930.52L1192.31 929.50L1193.27 928.40L1194.18 927.27L1195.06 926.12L1195.91 924.94L1196.74 923.76L1197.56 922.58L1198.38 921.39L1199.19 920.21L1200.01 919.04L1200.84 917.88L1201.68 916.74L1202.54 915.63L1203.42 914.55L1204.35 913.53L1205.32 912.57L1206.32 911.73L1207.32 911.07L1208.32 910.60L1209.32 910.34L1210.32 910.32L1211.32 910.54L1212.32 910.98L1213.32 911.62L1214.32 912.44L1215.32 913.41L1216.30 914.49L1217.23 915.61L1218.11 916.76L1218.97 917.93L1219.81 919.11L1220.63 920.30L1221.45 921.48L1222.26 922.67L1223.07 923.85L1223.90 925.01L1224.73 926.16L1225.58 927.28L1226.45 928.37L1227.36 929.42L1228.31 930.41L1229.31 931.30L1230.31 932.03L1231.31 932.57L1232.31 932.90L1233.31 933.00L1234.31 932.85L1235.31 932.48L1236.31 931.91L1237.31 931.15L1238.31 930.22L1239.31 929.16L1240.25 928.05L1241.15 926.91L1242.02 925.75L1242.86 924.57L1243.69 923.39L1244.50 922.20L1245.32 921.01L1246.13 919.83L1246.95 918.66L1247.78 917.50L1248.62 916.37L1249.49 915.27L1250.38 914.21L1251.32 913.20L1252.31 912.27L1253.31 911.48L1254.31 910.88L1255.31 910.48L1256.31 910.31L1257.31 910.37L1258.31 910.67L1259.31 911.19L1260.31 911.89L1261.31 912.77L1262.31 913.79L1263.27 914.88L1264.18 916.02L1265.06 917.17L1265.91 918.34L1266.74 919.53L1267.56 920.71L1268.37 921.90L1269.19 923.09L1270.00 924.26L1270.83 925.42L1271.67 926.56L1272.52 927.67L1273.41 928.75L1274.33 929.78L1275.30 930.74L1276.30 931.58L1277.30 932.24L1278.30 932.71L1279.30 932.96L1280.30 932.98L1281.30 932.75L1282.30 932.30L1283.30 931.66L1284.30 930.84L1285.30 929.87L1286.28 928.78L1287.21 927.66L1288.09 926.51L1288.95 925.35L1289.78 924.17L1290.61 922.98L1291.42 921.79L1292.24 920.60L1293.05 919.43L1293.87 918.26L1294.71 917.11L1295.56 915.99L1296.43 914.90L1297.34 913.86L1298.29 912.87L1299.29 911.98L1300.29 911.26L1301.29 910.72L1302.29 910.40L1303.29 910.30L1304.29 910.45L1305.29 910.83L1306.29 911.41L1307.29 912.17L1308.29 913.10L1309.29 914.16L1310.23 915.27L1311.13 916.42L1311.99 917.58L1312.84 918.75L1313.66 919.94L1314.48 921.13L1315.30 922.32L1316.11 923.50L1316.93 924.67L1317.76 925.82L1318.60 926.95L1319.47 928.05L1320.37 929.11L1321.30 930.12L1322.30 931.05L1323.30 931.83L1324.30 932.43L1325.30 932.83L1326.30 932.99L1327.30 932.92L1328.30 932.62L1329.30 932.10L1330.30 931.39L1331.30 930.51L1332.30 929.49L1333.25 928.39L1334.16 927.26L1335.04 926.10L1335.89 924.93L1336.72 923.75L1337.54 922.56L1338.35 921.37L1339.16 920.19L1339.98 919.01L1340.81 917.85L1341.65 916.71L1342.50 915.60L1343.39 914.53L1344.31 913.50L1345.29 912.54L1346.29 911.71L1347.29 911.05L1348.29 910.58L1349.29 910.34L1350.29 910.33L1351.29 910.56L1352.29 911.01L1353.29 911.66L1354.29 912.48L1355.29 913.46L1356.26 914.54L1357.19 915.66L1358.07 916.81L1358.93 917.98L1359.76 919.16L1360.59 920.35L1361.40 921.54L1362.22 922.72L1363.03 923.90L1363.85 925.07L1364.69 926.21L1365.54 927.33L1366.41 928.42L1367.32 929.47L1368.28 930.45L1369.28 931.34L1370.28 932.06L1371.28 932.59L1372.28 932.91L1373.28 933.00L1374.28 932.84L1375.28 932.46L1376.28 931.88L1377.28 931.11L1378.28 930.18L1379.28 929.11L1380.21 928.00L1381.11 926.86L1381.97 925.70L1382.82 924.52L1383.64 923.33L1384.46 922.15L1385.27 920.96L1386.09 919.78L1386.91 918.61L1387.74 917.45L1388.58 916.32L1389.45 915.22L1390.34 914.16L1391.28 913.16L1392.28 912.23L1393.28 911.45L1394.28 910.86L1395.28 910.47L1396.28 910.30L1397.28 910.38L1398.28 910.69L1399.28 911.22L1400.28 911.93L1401.28 912.81L1402.28 913.84L1403.23 914.93L1404.14 916.07L1405.02 917.22L1405.86 918.40L1406.70 919.58L1407.52 920.77L1408.33 921.96L1409.14 923.14L1409.96 924.31L1410.79 925.47L1411.62 926.61L1412.48 927.72L1413.37 928.80L1414.29 929.82L1415.27 930.78L1416.27 931.61L1417.27 932.27L1418.27 932.73L1419.27 932.97L1420.27 932.97L1421.27 932.73L1422.27 932.28L1423.27 931.63L1424.27 930.80L1425.27 929.82L1426.24 928.73L1427.17 927.61L1428.05 926.46L1428.91 925.29L1429.74 924.11L1430.57 922.93L1431.38 921.74L1432.19 920.55L1433.01 919.37L1433.83 918.21L1434.66 917.06L1435.52 915.94L1436.39 914.85L1437.30 913.81L1438.26 912.83L1439.26 911.94L1440.26 911.23L1441.26 910.70L1442.26 910.39L1443.26 910.30L1444.26 910.46L1445.26 910.85L1446.26 911.44L1447.26 912.21L1448.26 913.14L1449.26 914.21L1450.19 915.32L1451.09 916.47L1451.95 917.63L1452.79 918.81L1453.62 919.99L1454.44 921.18L1455.25 922.37L1456.06 923.55L1456.88 924.72L1457.71 925.87L1458.56 927.00L1459.43 928.10L1460.32 929.16L1461.26 930.16L1462.26 931.09L1463.26 931.86L1464.26 932.45L1465.26 932.84L1466.26 933.00L1467.26 932.91L1468.26 932.60L1469.26 932.07L1470.26 931.35L1471.26 930.47L1472.26 929.44L1473.22 928.34L1474.12 927.21L1474.99 926.05L1475.84 924.88L1476.67 923.69L1477.49 922.50L1478.31 921.32L1479.12 920.13L1479.94 918.96L1480.76 917.80L1481.60 916.66L1482.46 915.55L1483.35 914.48L1484.28 913.46L1485.25 912.50L1486.25 911.67L1487.25 911.02L1488.25 910.57L1489.25 910.33L1490.25 910.33L1491.25 910.57L1492.25 911.03L1493.25 911.69L1494.25 912.52L1495.25 913.50L1496.23 914.59L1497.15 915.71L1498.03 916.86L1498.88 918.03L1499.72 919.21L1500.54 920.40L1501.36 921.59L1502.17 922.78L1502.99 923.95L1503.81 925.12L1504.64 926.26L1505.50 927.38L1506.37 928.47L1507.28 929.51L1508.24 930.49L1509.24 931.37L1510.24 932.09L1511.24 932.61L1512.24 932.92L1513.24 933.00L1514.24 932.83L1515.24 932.44L1516.24 931.85L1517.24 931.07L1518.24 930.14L1519.24 929.07L1520.17 927.95L1521.07 926.81L1521.93 925.65L1522.77 924.47L1523.60 923.28L1524.42 922.09L1525.23 920.91L1526.04 919.73L1526.86 918.56L1527.69 917.41L1528.54 916.28L1529.40 915.18L1530.30 914.12L1531.25 913.12L1532.24 912.19L1533.24 911.42L1534.24 910.84L1535.24 910.46L1536.24 910.30L1537.24 910.39L1538.24 910.71L1539.24 911.24L1540.24 911.96L1541.24 912.85L1542.24 913.88L1543.20 914.98L1544.10 916.12L1544.97 917.28L1545.82 918.45L1546.65 919.63L1547.47 920.82L1548.29 922.01L1549.10 923.19L1549.92 924.37L1550.74 925.53L1551.58 926.66L1552.44 927.77L1553.33 928.84L1554.26 929.87L1555.23 930.82L1556.23 931.65L1557.23 932.29L1558.23 932.74L1559.23 932.97L1560.23 932.96L1561.23 932.72L1562.23 932.25L1563.23 931.59L1564.23 930.76L1565.23 929.77L1566.21 928.68L1567.13 927.56L1568.01 926.41L1568.86 925.24L1569.70 924.06L1570.52 922.87L1571.34 921.68L1572.15 920.50L1572.97 919.32L1573.79 918.16L1574.62 917.01L1575.47 915.89L1576.35 914.81L1577.26 913.77L1578.22 912.79L1579.22 911.91L1580.22 911.20L1581.22 910.68L1582.22 910.38L1583.22 910.31L1584.22 910.48L1585.22 910.87L1586.22 911.47L1587.22 912.25L1588.22 913.19L1589.22 914.26L1590.15 915.37L1591.05 916.51L1591.91 917.68L1592.75 918.86L1593.58 920.04L1594.39 921.23L1595.21 922.42L1596.02 923.60L1596.84 924.77L1597.67 925.92L1598.52 927.05L1599.38 928.15L1600.28 929.20L1601.23 930.20L1602.23 931.13L1603.23 931.89L1604.23 932.47L1605.23 932.85L1606.23 933.00L1607.23 932.90L1608.23 932.58L1609.23 932.04L1610.23 931.32L1611.23 930.43L1612.23 929.39L1613.18 928.29L1614.08 927.16L1614.95 926.00L1615.80 924.82L1616.63 923.64L1617.45 922.45L1618.27 921.26L1619.08 920.08L1619.90 918.91L1620.72 917.75L1621.56 916.61L1622.42 915.50L1623.31 914.43L1624.24 913.41L1625.22 912.46L1626.22 911.64L1627.22 910.99L1628.22 910.55L1629.22 910.32L1630.22 910.34L1631.22 910.59L1632.22 911.06L1633.22 911.72L1634.22 912.56L1635.22 913.55L1636.19 914.64L1637.11 915.77L1637.99 916.92L1638.84 918.09L1639.68 919.27L1640.50 920.46L1641.32 921.64L1642.13 922.83L1642.94 924.01L1643.77 925.17L1644.60 926.31L1645.45 927.43L1646.33 928.52L1647.25 929.56L1648.21 930.54L1649.21 931.41L1650.21 932.11L1651.21 932.63L1652.21 932.93L1653.21 932.99L1654.21 932.82L1655.21 932.42L1656.21 931.82L1657.21 931.03L1658.21 930.09L1659.20 929.02L1660.13 927.90L1661.02 926.76L1661.89 925.60L1662.73 924.42L1663.55 923.23L1664.37 922.04L1665.18 920.86L1666.00 919.68L1666.82 918.51L1667.65 917.36L1668.49 916.23L1669.36 915.13L1670.26 914.08L1671.21 913.08L1672.21 912.15L1673.21 911.39L1674.21 910.82L1675.21 910.44L1676.21 910.30L1677.21 910.40L1678.21 910.73L1679.21 911.27L1680.21 912.00L1681.21 912.89L1682.21 913.93L1683.16 915.03L1684.06 916.17L1684.93 917.33L1685.78 918.50L1686.61 919.69L1687.43 920.87L1688.24 922.06L1689.06 923.25L1689.87 924.42L1690.70 925.58L1691.54 926.71L1692.40 927.82L1693.29 928.89L1694.22 929.91L1695.20 930.86L1696.20 931.68L1697.20 932.32L1698.20 932.76L1699.20 932.98L1700.20 932.96L1701.20 932.70L1702.20 932.23L1703.20 931.56L1704.20 930.72L1705.20 929.72L1706.17 928.64L1707.09 927.51L1707.97 926.36L1708.82 925.19L1709.66 924.01L1710.48 922.82L1711.29 921.63L1712.11 920.45L1712.92 919.27L1713.74 918.11L1714.58 916.96L1715.43 915.84L1716.31 914.76L1717.23 913.72L1718.19 912.74L1719.19 911.87L1720.19 911.17L1721.19 910.67L1722.19 910.37L1723.19 910.31L1724.19 910.49L1725.19 910.89L1726.19 911.50L1727.19 912.29L1728.19 913.23L1729.18 914.30L1730.11 915.42L1731.00 916.56L1731.86 917.73L1732.70 918.91L1733.53 920.09L1734.35 921.28L1735.16 922.47L1735.97 923.65L1736.79 924.82L1737.63 925.97L1738.47 927.10L1739.34 928.19L1740.24 929.25L1741.19 930.25L1742.19 931.16L1743.19 931.92L1744.19 932.49L1745.19 932.86L1746.19 933.00L1747.19 932.90L1748.19 932.56L1749.19 932.02L1750.19 931.29L1751.19 930.39L1752.19 929.35L1753.14 928.24L1754.04 927.11L1754.91 925.95L1755.76 924.77L1756.59 923.59L1757.41 922.40L1758.22 921.21L1759.03 920.03L1759.85 918.86L1760.68 917.70L1761.52 916.56L1762.38 915.46L1763.27 914.39L1764.20 913.37L1765.18 912.42L1766.18 911.61L1767.18 910.97L1768.18 910.54L1769.18 910.32L1770.18 910.34L1771.18 910.61L1772.18 911.08L1773.18 911.76L1774.18 912.60L1775.18 913.60L1776.15 914.69L1777.07 915.81L1777.95 916.97L1778.80 918.14L1779.63 919.32L1780.46 920.51L1781.27 921.69L1782.08 922.88L1782.90 924.06L1783.72 925.22L1784.56 926.36L1785.41 927.48L1786.29 928.56L1787.21 929.60L1788.17 930.58L1789.17 931.44L1790.17 932.14L1791.17 932.64L1792.17 932.93L1793.17 932.99L1794.17 932.81L1795.17 932.40L1796.17 931.79L1797.17 931.00L1798.17 930.05L1799.16 928.97L1800.09 927.86L1800.98 926.71L1801.84 925.55L1802.68 924.37L1803.51 923.18L1804.32 921.99L1805.14 920.81L1805.95 919.63L1806.77 918.46L1807.60 917.31L1808.45 916.18L1809.32 915.09L1810.22 914.03L1811.17 913.04L1812.17 912.12L1813.17 911.37L1814.17 910.80L1815.17 910.43L1816.17 910.30L1817.17 910.41L1818.17 910.75L1819.17 911.30L1820.17 912.03L1821.17 912.93L1822.17 913.98L1823.12 915.08L1824.02 916.22L1824.89 917.38L1825.73 918.55L1826.56 919.74L1827.38 920.92L1828.20 922.11L1829.01 923.29L1829.83 924.47L1830.65 925.62L1831.49 926.76L1832.36 927.87L1833.25 928.93L1834.18 929.95L1835.16 930.90L1836.16 931.71L1837.16 932.34L1838.16 932.77L1839.16 932.98L1840.16 932.95L1841.16 932.69L1842.16 932.20L1843.16 931.53L1844.16 930.68L1845.16 929.68L1846.13 928.59L1847.04 927.46L1847.92 926.31L1848.78 925.14L1849.61 923.96L1850.43 922.77L1851.25 921.58L1852.06 920.40L1852.88 919.22L1853.70 918.06L1854.53 916.91L1855.39 915.80L1856.27 914.71L1857.19 913.68L1858.15 912.70L1859.15 911.84L1860.15 911.15L1861.15 910.65L1862.15 910.36L1863.15 910.31L1864.15 910.50L1865.15 910.91L1866.15 911.53L1867.15 912.32L1868.15 913.27L1869.14 914.35L1870.07 915.47L1870.96 916.61L1871.82 917.78L1872.66 918.95L1873.48 920.14L1874.30 921.33L1875.11 922.52L1875.93 923.70L1876.75 924.86L1877.58 926.01L1878.43 927.14L1879.30 928.24L1880.20 929.29L1881.15 930.28L1882.15 931.20L1883.15 931.95L1884.15 932.51L1885.15 932.87L1886.15 933.00L1887.15 932.89L1888.15 932.54L1889.15 931.99L1890.15 931.25L1891.15 930.35L1892.15 929.30L1893.09 928.20L1894.00 927.06L1894.86 925.90L1895.71 924.73L1896.54 923.54L1897.36 922.35L1898.17 921.17L1898.99 919.98L1899.80 918.81L1900.63 917.65L1901.47 916.52L1902.33 915.41L1903.23 914.35L1904.16 913.33L1905.14 912.38L1906.14 911.58L1907.14 910.95L1908.14 910.52L1909.14 910.32L1910.14 910.35L1911.14 910.62L1912.14 911.11L1913.14 911.79L1914.14 912.64L1915.14 913.64L1916.11 914.73L1917.02 915.86L1917.90 917.01L1918.75 918.19L1919.59 919.37L1920.41 920.55L1921.22 921.74L1922.04 922.93L1922.85 924.10L1923.68 925.27L1924.51 926.41L1925.37 927.53L1926.25 928.61L1927.16 929.64L1928.13 930.61L1929.13 931.47L1930.13 932.16L1931.13 932.66L1932.13 932.94L1933.13 932.99L1934.13 932.79L1935.13 932.38L1936.13 931.76L1937.13 930.96L1938.13 930.01L1939.12 928.93L1940.05 927.81L1940.93 926.67L1941.79 925.50L1942.63 924.32L1943.46 923.14L1944.28 921.95L1945.09 920.76L1945.90 919.58L1946.72 918.41L1947.56 917.26L1948.40 916.14L1949.27 915.04L1950.18 913.99L1951.13 913.00L1952.13 912.09L1953.13 911.34L1954.13 910.78L1955.13 910.43L1956.13 910.30L1957.13 910.42L1958.13 910.77L1959.13 911.32L1960.13 912.06L1961.13 912.97L1962.13 914.02L1963.07 915.12L1963.97 916.26L1964.84 917.42L1965.69 918.60L1966.52 919.78L1967.33 920.97L1968.15 922.16L1968.96 923.34L1969.78 924.51L1970.61 925.67L1971.45 926.80L1972.31 927.91L1973.20 928.97L1974.14 929.99L1975.12 930.93L1976.12 931.74L1977.12 932.36L1978.12 932.78L1979.12 932.99L1980.12 932.95L1981.12 932.67L1982.12 932.18L1983.12 931.50L1984.12 930.64L1985.12 929.64L1986.09 928.54L1987.00 927.42L1987.88 926.26L1988.73 925.09L1989.56 923.91L1990.38 922.72L1991.20 921.53L1992.01 920.35L1992.83 919.17L1993.65 918.01L1994.49 916.87L1995.34 915.75L1996.23 914.67L1997.14 913.64L1998.11 912.67L1999.11 911.81L2000.11 911.13L2001.11 910.63L2002.11 910.36L2003.11 910.31L2004.11 910.51L2005.11 910.93L2006.11 911.56L2007.11 912.36L2008.11 913.31L2009.09 914.39L2010.02 915.51L2010.91 916.66L2011.77 917.82L2012.61 919.00L2013.44 920.19L2014.25 921.38L2015.07 922.56L2015.88 923.74L2016.70 924.91L2017.53 926.06L2018.38 927.18L2019.25 928.28L2020.16 929.33L2021.10 930.32L2022.10 931.23L2023.10 931.97L2024.10 932.53L2025.10 932.88L2026.10 933.00L2027.10 932.88L2028.10 932.53L2029.10 931.97L2030.10 931.22L2031.10 930.31L2032.10 929.26L2033.05 928.15L2033.95 927.02L2034.82 925.86L2035.66 924.68L2036.49 923.50L2037.31 922.31L2038.12 921.12L2038.94 919.94L2039.76 918.77L2040.58 917.61L2041.42 916.48L2042.29 915.37L2043.18 914.30L2044.11 913.29L2045.10 912.35L2046.10 911.55L2047.10 910.93L2048.10 910.51L2049.10 910.31L2050.10 910.36L2051.10 910.64L2052.10 911.13L2053.10 911.82L2054.10 912.68L2055.10 913.68L2056.06 914.78L2056.98 915.91L2057.85 917.06L2058.71 918.23L2059.54 919.41L2060.36 920.60L2061.18 921.79L2061.99 922.97L2062.80 924.15L2063.63 925.31L2064.47 926.45L2065.32 927.57L2066.20 928.65L2067.12 929.68L2068.09 930.65L2069.09 931.50L2070.09 932.19L2071.09 932.67L2072.09 932.95L2073.09 932.98L2074.09 932.78L2075.09 932.36L2076.09 931.73L2077.09 930.93L2078.09 929.97L2079.07 928.89L2080.00 927.77L2080.89 926.62L2081.75 925.46L2082.59 924.28L2083.41 923.09L2084.23 921.90L2085.04 920.72L2085.86 919.54L2086.68 918.37L2087.51 917.22L2088.36 916.09L2089.23 915.00L2090.13 913.95L2091.08 912.96L2092.08 912.06L2093.08 911.32L2094.08 910.76L2095.08 910.42L2096.08 910.30L2097.08 910.42L2098.08 910.74L2099.08 911.21L2100.08 911.78L2101.08 912.42L2102.08 913.30L2103.03 914.51L2103.86 915.72L2104.67 916.88L2105.50 918.03L2106.34 919.22L2107.15 920.41L2107.97 921.58L2108.80 922.72L2109.65 923.81L2110.55 924.91L2111.45 925.98L2112.38 927.02L2113.34 928.00L2114.34 928.89L2115.34 929.74L2116.34 930.52L2117.34 931.20L2118.34 931.70L2119.34 932.05L2120.34 932.36L2121.34 932.56L2122.34 932.60L2123.34 932.60L2123.40 932.60"/>
<path stroke="#D95319" d="M266.00 1407.40L267.00 1406.58L268.00 1405.93L269.00 1405.43L270.00 1405.07L271.00 1404.82L272.00 1404.67L273.00 1404.61L274.00 1404.63L275.00 1404.88L276.00 1405.34L277.00 1405.98L278.00 1406.78L279.00 1407.71L280.00 1408.73L280.97 1409.78L281.90 1411.17L282.61 1412.60L283.23 1414.07L283.81 1415.55L284.35 1417.04L284.88 1418.53L285.40 1420.01L285.92 1421.48L286.45 1423.06L286.92 1424.66L287.36 1426.27L287.78 1427.87L288.20 1429.45L288.61 1431.01L289.04 1432.54L289.49 1434.01L289.98 1435.40L290.54 1436.79L291.11 1438.22L291.68 1439.65L292.25 1441.06L292.84 1442.44L293.45 1443.77L294.10 1445.03L294.81 1446.18L295.65 1447.10L296.65 1447.50L297.65 1447.28L298.65 1446.70L299.65 1445.84L300.65 1444.76L301.57 1443.63L302.45 1442.48L303.31 1441.34L304.17 1440.21L305.03 1438.93L305.79 1437.60L306.49 1436.25L307.16 1434.89L307.81 1433.52L308.45 1432.17L309.10 1430.83L309.76 1429.53L310.44 1428.27L311.17 1427.01L311.90 1425.72L312.61 1424.44L313.33 1423.19L314.08 1421.99L314.87 1420.86L315.73 1419.85L316.73 1418.95L317.73 1418.09L318.73 1417.27L319.73 1416.52L320.73 1415.85L321.73 1415.31L322.73 1414.90L323.73 1414.66L324.73 1414.60L325.73 1414.70L326.73 1414.91L327.73 1415.23L328.73 1415.63L329.73 1416.10L330.73 1416.62L331.73 1417.18L332.73 1417.76L333.73 1418.35L334.73 1418.93L335.73 1419.47L336.73 1419.98L337.73 1420.43L338.73 1420.80L339.73 1421.08L340.73 1421.25L341.73 1421.30L342.73 1421.15L343.73 1420.80L344.73 1420.27L345.73 1419.59L346.73 1418.79L347.73 1417.90L348.73 1416.94L349.73 1415.95L350.73 1414.95L351.73 1413.97L352.71 1412.79L353.56 1411.57L354.36 1410.33L355.13 1409.10L355.91 1407.90L356.70 1406.74L357.55 1405.68L358.48 1404.72L359.48 1403.72L360.48 1402.71L361.47 1401.72L362.47 1400.77L363.47 1399.88L364.47 1399.08L365.47 1398.39L366.47 1397.83L367.47 1397.44L368.47 1397.23L369.47 1397.22L370.47 1397.37L371.47 1397.68L372.47 1398.11L373.47 1398.66L374.47 1399.31L375.47 1400.04L376.47 1400.85L377.47 1401.72L378.47 1402.63L379.47 1403.57L380.47 1404.52L381.47 1405.46L382.47 1406.40L383.47 1407.30L384.47 1408.15L385.47 1408.94L386.47 1409.66L387.47 1410.29L388.47 1410.81L389.47 1411.21L390.47 1411.48L391.47 1411.60L392.47 1411.54L393.47 1411.31L394.47 1410.91L395.47 1410.36L396.47 1409.67L397.47 1408.87L398.47 1407.98L399.47 1407.00L400.47 1405.96L401.43 1404.91L402.38 1403.84L403.32 1402.78L404.25 1401.72L405.19 1400.66L406.14 1399.63L407.11 1398.62L408.10 1397.65L409.10 1396.75L410.10 1395.95L411.10 1395.26L412.10 1394.71L413.10 1394.30L414.10 1394.06L415.10 1394.00L416.10 1394.13L417.10 1394.41L418.10 1394.85L419.10 1395.41L420.10 1396.10L421.10 1396.88L422.10 1397.75L423.10 1398.70L424.10 1399.70L425.09 1400.73L426.06 1401.76L427.03 1402.80L427.99 1403.83L428.96 1404.85L429.94 1405.85L430.94 1406.82L431.94 1407.73L432.94 1408.56L433.94 1409.29L434.94 1409.91L435.94 1410.41L436.94 1410.76L437.94 1410.96L438.94 1410.99L439.94 1410.84L440.94 1410.53L441.94 1410.08L442.94 1409.50L443.94 1408.80L444.94 1408.01L445.94 1407.14L446.94 1406.20L447.94 1405.21L448.94 1404.20L449.93 1403.18L450.91 1402.16L451.89 1401.16L452.89 1400.17L453.89 1399.23L454.89 1398.35L455.89 1397.55L456.89 1396.85L457.89 1396.26L458.89 1395.79L459.89 1395.47L460.89 1395.32L461.89 1395.33L462.89 1395.52L463.89 1395.87L464.89 1396.37L465.89 1397.00L466.89 1397.74L467.89 1398.58L468.89 1399.51L469.89 1400.51L470.88 1401.54L471.84 1402.59L472.79 1403.65L473.73 1404.71L474.67 1405.77L475.62 1406.81L476.58 1407.84L477.55 1408.84L478.55 1409.81L479.55 1410.70L480.55 1411.50L481.55 1412.19L482.55 1412.76L483.55 1413.20L484.55 1413.48L485.55 1413.60L486.55 1413.53L487.55 1413.26L488.55 1412.83L489.55 1412.24L490.55 1411.51L491.55 1410.67L492.55 1409.73L493.55 1408.71L494.53 1407.66L495.48 1406.59L496.42 1405.53L497.35 1404.46L498.28 1403.40L499.23 1402.36L500.18 1401.34L501.17 1400.36L502.17 1399.45L503.17 1398.64L504.17 1397.96L505.17 1397.42L506.17 1397.03L507.17 1396.83L508.17 1396.82L509.17 1397.00L510.17 1397.34L511.17 1397.83L512.17 1398.46L513.17 1399.21L514.17 1400.06L515.17 1401.00L516.17 1402.01L517.15 1403.06L518.10 1404.12L519.05 1405.19L519.98 1406.26L520.91 1407.32L521.85 1408.37L522.79 1409.41L523.76 1410.42L524.74 1411.40L525.74 1412.32L526.74 1413.14L527.74 1413.85L528.74 1414.44L529.74 1414.89L530.74 1415.18L531.74 1415.30L532.74 1415.23L533.74 1414.97L534.74 1414.54L535.74 1413.96L536.74 1413.24L537.74 1412.40L538.74 1411.47L539.74 1410.46L540.72 1409.41L541.68 1408.35L542.62 1407.28L543.55 1406.22L544.49 1405.16L545.43 1404.12L546.39 1403.10L547.37 1402.12L548.37 1401.19L549.37 1400.37L550.37 1399.67L551.37 1399.10L552.37 1398.69L553.37 1398.45L554.37 1398.41L555.37 1398.53L556.37 1398.80L557.37 1399.21L558.37 1399.74L559.37 1400.37L560.37 1401.11L561.37 1401.93L562.37 1402.81L563.37 1403.76L564.37 1404.75L565.37 1405.76L566.35 1406.79L567.33 1407.81L568.31 1408.82L569.30 1409.82L570.30 1410.81L571.30 1411.74L572.30 1412.62L573.30 1413.42L574.30 1414.14L575.30 1414.76L576.30 1415.27L577.30 1415.66L578.30 1415.90L579.30 1416.00L580.30 1415.92L581.30 1415.65L582.30 1415.22L583.30 1414.63L584.30 1413.91L585.30 1413.07L586.30 1412.14L587.30 1411.13L588.28 1410.09L589.24 1409.03L590.18 1407.96L591.12 1406.90L592.05 1405.85L593.00 1404.81L593.96 1403.80L594.95 1402.82L595.95 1401.91L596.95 1401.10L597.95 1400.41L598.95 1399.86L599.95 1399.46L600.95 1399.24L601.95 1399.21L602.95 1399.39L603.95 1399.76L604.95 1400.31L605.95 1401.01L606.95 1401.85L607.95 1402.80L608.95 1403.85L609.90 1404.93L610.82 1406.03L611.73 1407.14L612.62 1408.26L613.50 1409.38L614.38 1410.50L615.27 1411.60L616.17 1412.68L617.09 1413.74L618.03 1414.76L619.00 1415.74L620.00 1416.63L621.00 1417.40L622.00 1418.01L623.00 1418.47L624.00 1418.73L625.00 1418.79L626.00 1418.23L626.93 1398.98L627.01 1396.95L627.09 1394.91L627.17 1392.87L627.25 1390.83L627.33 1388.79L627.41 1386.75L627.49 1384.71L627.57 1382.67L627.65 1380.63L627.73 1378.59L627.81 1376.55L627.89 1374.51L627.97 1372.47L628.05 1370.42L628.13 1368.38L628.21 1366.35L628.29 1364.31L628.37 1362.27L628.45 1360.23L628.53 1358.20L628.61 1356.16L628.69 1354.13L628.77 1352.09L628.85 1350.06L628.93 1348.03L629.01 1346.00L629.09 1343.97L629.17 1341.95L629.25 1339.92L629.33 1337.90L629.41 1335.88L629.49 1333.86L629.57 1331.85L629.65 1329.83L629.73 1327.82L629.81 1325.81L629.89 1323.81L629.97 1321.80L630.05 1319.80L630.13 1317.80L630.21 1315.80L630.29 1313.81L630.37 1311.82L630.45 1309.83L630.53 1307.84L630.61 1305.86L630.69 1303.88L630.77 1301.91L630.85 1299.94L630.93 1297.97L631.01 1296.00L631.09 1294.04L631.17 1292.08L631.25 1290.13L631.33 1288.18L631.41 1286.23L631.49 1284.29L631.57 1282.35L631.65 1280.41L631.73 1278.48L631.81 1276.55L631.89 1274.63L631.97 1272.71L632.05 1270.79L632.13 1268.88L632.21 1266.96L632.29 1265.04L632.37 1263.12L632.45 1261.21L632.53 1259.29L632.61 1257.38L632.69 1255.46L632.78 1253.54L632.86 1251.63L632.94 1249.71L633.02 1247.80L633.10 1245.88L633.19 1243.97L633.27 1242.05L633.35 1240.14L633.44 1238.22L633.52 1236.31L633.60 1234.40L633.69 1232.48L633.77 1230.57L633.86 1228.66L633.94 1226.75L634.03 1224.83L634.11 1222.92L634.20 1221.01L634.28 1219.10L634.37 1217.19L634.46 1215.28L634.54 1213.37L634.63 1211.46L634.72 1209.55L634.80 1207.64L634.89 1205.73L634.98 1203.82L635.07 1201.91L635.15 1200.00L635.24 1198.09L635.33 1196.18L635.42 1194.28L635.51 1192.37L635.60 1190.46L635.69 1188.56L635.78 1186.65L635.87 1184.74L635.96 1182.84L636.05 1180.93L636.15 1179.03L636.24 1177.12L636.33 1175.22L636.42 1173.31L636.51 1171.41L636.61 1169.51L636.70 1167.60L636.79 1165.70L636.89 1163.80L636.98 1161.90L637.08 1159.99L637.17 1158.09L637.27 1156.19L637.36 1154.29L637.46 1152.39L637.56 1150.49L637.65 1148.59L637.75 1146.69L637.85 1144.79L637.95 1142.89L638.04 1141.00L638.14 1139.10L638.24 1137.20L638.34 1135.30L638.44 1133.41L638.54 1131.51L638.64 1129.62L638.74 1127.72L638.84 1125.83L638.95 1123.93L639.05 1122.04L639.15 1120.14L639.25 1118.25L639.36 1116.36L639.46 1114.46L639.56 1112.57L639.67 1110.68L639.77 1108.79L639.88 1106.90L639.98 1105.01L640.09 1103.12L640.19 1101.23L640.30 1099.34L640.41 1097.45L640.52 1095.56L640.62 1093.67L640.73 1091.79L640.84 1089.90L640.95 1088.01L641.06 1086.13L641.17 1084.24L641.28 1082.35L641.39 1080.47L641.51 1078.58L641.62 1076.70L641.73 1074.82L641.84 1072.93L641.96 1071.05L642.07 1069.17L642.18 1067.29L642.30 1065.41L642.41 1063.53L642.53 1061.65L642.65 1059.77L642.76 1057.89L642.88 1056.01L643.00 1054.13L643.12 1052.25L643.23 1050.37L643.35 1048.50L643.47 1046.62L643.59 1044.75L643.71 1042.87L643.83 1041.00L643.96 1039.12L644.08 1037.25L644.20 1035.37L644.32 1033.50L644.45 1031.63L644.57 1029.76L644.70 1027.88L644.82 1026.01L644.95 1024.14L645.07 1022.27L645.20 1020.40L645.33 1018.54L645.45 1016.67L645.58 1014.80L645.71 1012.93L645.84 1011.07L645.97 1009.20L646.10 1007.33L646.23 1005.47L646.36 1003.61L646.49 1001.74L646.63 999.88L646.76 998.01L646.89 996.15L647.03 994.29L647.16 992.43L647.30 990.57L647.43 988.71L647.57 986.85L647.71 984.99L647.84 983.13L647.98 981.27L648.12 979.42L648.26 977.56L648.40 975.70L648.54 973.85L648.68 971.99L648.82 970.14L648.96 968.29L649.11 966.43L649.25 964.58L649.39 962.73L649.54 960.88L649.68 959.03L649.83 957.17L649.98 955.33L650.12 953.48L650.27 951.63L650.42 949.78L650.57 947.93L650.72 946.09L650.86 944.24L651.02 942.39L651.17 940.55L651.32 938.70L651.47 936.86L651.62 935.02L651.78 933.18L651.93 931.33L652.09 929.49L652.24 927.65L652.40 925.81L652.55 923.97L652.71 922.13L652.87 920.30L653.03 918.46L653.19 916.62L653.35 914.79L653.51 912.95L653.67 911.12L653.83 909.28L653.99 907.45L654.16 905.61L654.32 903.78L654.48 901.95L654.65 900.12L654.81 898.29L654.98 896.46L655.15 894.63L655.32 892.80L655.48 890.97L655.65 889.15L655.82 887.32L655.99 885.50L656.16 883.67L656.34 881.85L656.51 880.02L656.68 878.20L656.85 876.38L657.03 874.55L657.20 872.73L657.38 870.91L657.56 869.09L657.73 867.27L657.91 865.46L658.09 863.64L658.27 861.82L658.45 860.01L658.63 858.19L658.81 856.37L658.99 854.56L659.17 852.75L659.36 850.93L659.54 849.12L659.73 847.31L659.91 845.50L660.10 843.69L660.29 841.88L660.47 840.07L660.66 838.26L660.85 836.46L661.04 834.65L661.23 832.84L661.42 831.04L661.61 829.24L661.81 827.43L662.00 825.63L662.19 823.83L662.39 822.02L662.58 820.22L662.78 818.42L662.98 816.62L663.17 814.83L663.37 813.03L663.57 811.23L663.77 809.43L663.97 807.64L664.17 805.84L664.38 804.05L664.58 802.26L664.78 800.46L664.99 798.67L665.19 796.88L665.40 795.09L665.60 793.30L665.81 791.51L666.02 789.72L666.23 787.93L666.44 786.15L666.65 784.36L666.86 782.58L667.07 780.79L667.28 779.01L667.50 777.23L667.71 775.44L667.93 773.66L668.14 771.88L668.36 770.11L668.58 768.33L668.80 766.55L669.02 764.78L669.24 763.01L669.46 761.24L669.69 759.47L669.91 757.70L670.14 755.93L670.37 754.17L670.60 752.41L670.83 750.65L671.07 748.89L671.30 747.13L671.54 745.38L671.78 743.63L672.02 741.88L672.26 740.13L672.51 738.38L672.76 736.64L673.01 734.90L673.26 733.16L673.51 731.42L673.77 729.69L674.03 727.96L674.29 726.23L674.55 724.50L674.82 722.78L675.09 721.05L675.36 719.34L675.64 717.62L675.91 715.91L676.19 714.20L676.47 712.49L676.76 710.78L677.05 709.08L677.34 707.38L677.63 705.69L677.93 703.99L678.23 702.30L678.53 700.62L678.84 698.93L679.15 697.25L679.46 695.57L679.77 693.90L680.09 692.23L680.41 690.56L680.74 688.89L681.07 687.23L681.40 685.57L681.74 683.92L682.07 682.27L682.42 680.62L682.76 678.98L683.11 677.33L683.46 675.70L683.82 674.06L684.18 672.43L684.54 670.80L684.91 669.18L685.28 667.56L685.65 665.95L686.03 664.33L686.41 662.72L686.80 661.12L687.18 659.52L687.58 657.92L687.97 656.32L688.37 654.73L688.78 653.15L689.18 651.56L689.59 649.98L690.01 648.41L690.43 646.83L690.85 645.19L691.25 643.57L691.64 642.02L692.06 640.57L692.56 639.32L693.18 638.02L693.86 636.79L694.60 635.64L695.44 634.62L696.41 633.77L697.41 633.01L698.41 632.38L699.41 631.99L700.41 631.91L701.41 632.14L702.41 632.58L703.41 633.17L704.41 633.83L705.41 634.59L706.41 635.66L707.32 636.84L708.16 638.04L708.94 639.43L709.62 640.81L710.27 642.16L710.93 643.44L711.62 644.76L712.31 646.05L713.01 647.32L713.74 648.52L714.52 649.69L715.34 650.83L716.19 651.94L717.08 653.03L717.99 654.09L718.93 655.11L719.90 656.09L720.90 657.02L721.90 657.88L722.90 658.70L723.90 659.47L724.90 660.20L725.90 660.95L726.90 661.73L727.90 662.52L728.90 663.36L729.90 664.26L730.90 665.23L731.90 666.25L732.88 667.30L733.83 668.36L734.77 669.46L735.67 670.60L736.54 671.77L737.37 672.98L738.17 674.25L738.91 675.59L739.59 677.00L740.22 678.43L740.81 679.86L741.39 681.34L741.94 682.84L742.46 684.37L742.95 685.96L743.41 687.54L743.85 689.11L744.29 690.68L744.72 692.26L745.15 693.86L745.57 695.45L745.98 697.04L746.39 698.63L746.80 700.22L747.21 701.80L747.63 703.37L748.05 704.93L748.48 706.48L748.92 708.02L749.37 709.55L749.82 711.08L750.29 712.61L750.75 714.14L751.22 715.67L751.69 717.21L752.15 718.76L752.61 720.31L753.06 721.88L753.51 723.46L753.94 725.05L754.36 726.65L754.78 728.25L755.19 729.86L755.59 731.46L755.99 733.07L756.39 734.67L756.78 736.27L757.18 737.87L757.58 739.47L757.98 741.05L758.39 742.64L758.80 744.25L759.19 745.86L759.59 747.47L759.99 749.06L760.39 750.65L760.79 752.23L761.21 753.78L761.63 755.32L762.08 756.82L762.55 758.33L763.02 759.83L763.51 761.32L764.02 762.78L764.54 764.23L765.07 765.65L765.63 767.04L766.22 768.40L766.84 769.74L767.49 771.06L768.16 772.35L768.85 773.62L769.57 774.87L770.32 776.10L771.08 777.31L771.87 778.48L772.68 779.63L773.53 780.78L774.38 781.92L775.23 783.08L776.08 784.22L776.93 785.36L777.79 786.50L778.65 787.64L779.51 788.77L780.39 789.88L781.27 791.01L782.14 792.15L783.00 793.34L783.82 794.50L784.65 795.70L785.45 796.99L786.18 798.36L786.84 799.82L787.43 801.30L787.98 802.80L788.50 804.31L789.01 805.82L789.51 807.33L790.01 808.83L790.51 810.32L791.01 811.83L791.51 813.35L792.00 814.87L792.48 816.40L792.96 817.93L793.43 819.47L793.90 821.01L794.36 822.55L794.83 824.09L795.29 825.63L795.75 827.18L796.20 828.72L796.66 830.27L797.12 831.84L797.56 833.40L798.00 834.97L798.44 836.53L798.88 838.09L799.32 839.66L799.75 841.21L800.20 842.76L800.64 844.31L801.09 845.84L801.55 847.37L802.01 848.89L802.48 850.42L802.95 851.96L803.42 853.49L803.88 855.01L804.36 856.52L804.84 858.03L805.33 859.52L805.83 860.99L806.34 862.43L806.88 863.85L807.44 865.24L808.03 866.64L808.62 868.03L809.22 869.41L809.84 870.76L810.48 872.08L811.15 873.35L811.86 874.56L812.63 875.67L813.51 876.69L814.47 877.68L815.47 878.61L816.47 879.44L817.47 880.17L818.47 880.83L819.47 881.42L820.47 881.93L821.47 882.37L822.47 882.74L823.47 883.08L824.47 883.43L825.47 883.80L826.47 884.24L827.47 884.74L828.47 885.29L829.47 885.88L830.47 886.52L831.47 887.24L832.47 888.02L833.47 888.89L834.47 889.88L835.42 891.01L836.30 892.19L837.13 893.42L837.92 894.68L838.67 895.96L839.40 897.26L840.11 898.57L840.80 899.90L841.47 901.33L842.08 902.79L842.66 904.27L843.20 905.76L843.73 907.25L844.25 908.74L844.77 910.23L845.28 911.70L845.80 913.17L846.33 914.61L846.87 916.03L847.44 917.41L848.04 918.75L848.67 920.12L849.30 921.47L849.94 922.81L850.59 924.13L851.27 925.42L851.96 926.69L852.69 927.91L853.46 929.09L854.25 930.29L855.05 931.48L855.86 932.63L856.71 933.71L857.63 934.67L858.63 935.41L859.63 935.89L860.63 936.31L861.63 936.64L862.63 936.85L863.63 936.89L864.63 936.73L865.63 936.38L866.63 935.93L867.63 935.44L868.63 934.97L869.63 934.51L870.63 933.97L871.63 933.42L872.63 932.96L873.63 932.64L874.63 932.39L875.63 932.17L876.63 932.03L877.63 932.01L878.63 932.19L879.63 932.53L880.63 932.99L881.63 933.51L882.63 934.17L883.63 935.12L884.60 936.22L885.52 937.30L886.45 938.39L887.35 939.53L888.21 940.70L889.05 941.89L889.87 943.10L890.66 944.35L891.42 945.61L892.16 946.88L892.90 948.16L893.63 949.42L894.36 950.74L895.06 952.04L895.76 953.33L896.47 954.57L897.22 955.77L897.99 956.99L898.78 958.15L899.61 959.21L900.56 960.10L901.56 960.91L902.56 961.58L903.56 962.08L904.56 962.41L905.56 962.69L906.56 962.87L907.56 962.87L908.56 962.61L909.56 962.17L910.56 961.60L911.56 960.98L912.56 960.25L913.56 959.25L914.52 958.18L915.46 957.14L916.43 956.19L917.43 955.23L918.43 954.28L919.43 953.42L920.43 952.71L921.43 952.17L922.43 951.66L923.43 951.20L924.43 950.84L925.43 950.63L926.43 950.62L927.43 950.76L928.43 951.02L929.43 951.37L930.43 951.77L931.43 952.37L932.43 953.29L933.41 954.39L934.32 955.49L935.23 956.55L936.16 957.71L937.02 958.88L937.86 960.04L938.70 961.16L939.59 962.19L940.56 963.24L941.51 964.30L942.45 965.37L943.39 966.43L944.33 967.46L945.30 968.46L946.30 969.42L947.30 970.26L948.30 970.95L949.30 971.47L950.30 971.80L951.30 971.90L952.30 971.81L953.30 971.57L954.30 971.20L955.30 970.72L956.30 970.13L957.30 969.45L958.30 968.70L959.30 967.89L960.30 967.03L961.30 966.14L962.30 965.22L963.30 964.30L964.30 963.39L965.30 962.50L966.30 961.65L967.30 960.85L968.30 960.11L969.30 959.45L970.30 958.88L971.30 958.42L972.30 958.07L973.30 957.86L974.30 957.80L975.30 957.90L976.30 958.17L977.30 958.59L978.30 959.14L979.30 959.80L980.30 960.57L981.30 961.43L982.30 962.36L983.30 963.35L984.29 964.37L985.27 965.41L986.23 966.44L987.20 967.48L988.17 968.50L989.15 969.50L990.15 970.47L991.15 971.39L992.15 972.22L993.15 972.97L994.15 973.61L995.15 974.13L996.15 974.51L997.15 974.74L998.15 974.80L999.15 974.69L1000.15 974.42L1001.15 974.00L1002.15 973.46L1003.15 972.80L1004.15 972.05L1005.15 971.21L1006.15 970.31L1007.15 969.36L1008.15 968.37L1009.15 967.36L1010.14 966.35L1011.13 965.35L1012.13 964.37L1013.13 963.43L1014.13 962.54L1015.13 961.73L1016.13 961.00L1017.13 960.37L1018.13 959.87L1019.13 959.49L1020.13 959.26L1021.13 959.20L1022.13 959.31L1023.13 959.59L1024.13 960.01L1025.13 960.57L1026.13 961.24L1027.13 962.02L1028.13 962.89L1029.13 963.83L1030.13 964.82L1031.12 965.85L1032.10 966.89L1033.06 967.92L1034.02 968.96L1034.99 969.98L1035.97 970.99L1036.97 971.96L1037.97 972.88L1038.97 973.72L1039.97 974.47L1040.97 975.11L1041.97 975.63L1042.97 976.01L1043.97 976.24L1044.97 976.30L1045.97 976.17L1046.97 975.88L1047.97 975.43L1048.97 974.85L1049.97 974.14L1050.97 973.32L1051.97 972.42L1052.97 971.45L1053.97 970.42L1054.94 969.38L1055.90 968.34L1056.86 967.29L1057.81 966.25L1058.78 965.23L1059.75 964.23L1060.75 963.26L1061.75 962.37L1062.75 961.57L1063.75 960.88L1064.75 960.31L1065.75 959.88L1066.75 959.60L1067.75 959.50L1068.75 959.58L1069.75 959.83L1070.75 960.24L1071.75 960.78L1072.75 961.45L1073.75 962.23L1074.75 963.09L1075.75 964.04L1076.75 965.04L1077.74 966.08L1078.71 967.12L1079.66 968.17L1080.62 969.21L1081.58 970.24L1082.55 971.26L1083.53 972.25L1084.53 973.19L1085.53 974.06L1086.53 974.84L1087.53 975.51L1088.53 976.05L1089.53 976.46L1090.53 976.72L1091.53 976.80L1092.53 976.70L1093.53 976.42L1094.53 975.99L1095.53 975.41L1096.53 974.70L1097.53 973.89L1098.53 972.98L1099.53 972.00L1100.52 970.97L1101.49 969.92L1102.45 968.87L1103.39 967.81L1104.34 966.76L1105.29 965.73L1106.26 964.71L1107.25 963.73L1108.25 962.81L1109.25 961.97L1110.25 961.24L1111.25 960.63L1112.25 960.16L1113.25 959.85L1114.25 959.71L1115.25 959.75L1116.25 959.97L1117.25 960.34L1118.25 960.85L1119.25 961.49L1120.25 962.24L1121.25 963.08L1122.25 964.00L1123.25 964.99L1124.24 966.02L1125.21 967.06L1126.17 968.10L1127.13 969.15L1128.09 970.18L1129.06 971.20L1130.04 972.19L1131.04 973.15L1132.04 974.04L1133.04 974.84L1134.04 975.54L1135.04 976.11L1136.04 976.56L1137.04 976.86L1138.04 976.99L1139.04 976.95L1140.04 976.72L1141.04 976.32L1142.04 975.77L1143.04 975.09L1144.04 974.29L1145.04 973.39L1146.04 972.42L1147.03 971.39L1148.00 970.34L1148.96 969.28L1149.90 968.22L1150.84 967.17L1151.79 966.13L1152.75 965.10L1153.73 964.11L1154.73 963.17L1155.73 962.32L1156.73 961.58L1157.73 960.96L1158.73 960.48L1159.73 960.15L1160.73 960.01L1161.73 960.05L1162.73 960.28L1163.73 960.67L1164.73 961.22L1165.73 961.89L1166.73 962.69L1167.73 963.58L1168.73 964.55L1169.73 965.58L1170.70 966.63L1171.65 967.69L1172.59 968.75L1173.53 969.81L1174.47 970.86L1175.43 971.88L1176.40 972.88L1177.40 973.85L1178.40 974.72L1179.40 975.50L1180.40 976.16L1181.40 976.69L1182.40 977.06L1183.40 977.27L1184.40 977.28L1185.40 977.12L1186.40 976.80L1187.40 976.32L1188.40 975.71L1189.40 974.98L1190.40 974.16L1191.40 973.25L1192.40 972.27L1193.40 971.24L1194.37 970.20L1195.33 969.16L1196.29 968.11L1197.25 967.08L1198.21 966.05L1199.19 965.06L1200.19 964.10L1201.19 963.21L1202.19 962.41L1203.19 961.72L1204.19 961.15L1205.19 960.71L1206.19 960.43L1207.19 960.32L1208.19 960.39L1209.19 960.64L1210.19 961.06L1211.19 961.61L1212.19 962.29L1213.19 963.09L1214.19 963.98L1215.19 964.95L1216.19 965.98L1217.16 967.02L1218.12 968.08L1219.07 969.13L1220.01 970.19L1220.96 971.23L1221.92 972.25L1222.90 973.25L1223.90 974.21L1224.90 975.08L1225.90 975.86L1226.90 976.52L1227.90 977.05L1228.90 977.44L1229.90 977.66L1230.90 977.70L1231.90 977.56L1232.90 977.26L1233.90 976.82L1234.90 976.24L1235.90 975.54L1236.90 974.74L1237.90 973.86L1238.90 972.91L1239.90 971.91L1240.88 970.88L1241.86 969.85L1242.82 968.81L1243.79 967.79L1244.77 966.78L1245.76 965.79L1246.76 964.84L1247.76 963.97L1248.76 963.18L1249.76 962.50L1250.76 961.93L1251.76 961.49L1252.76 961.21L1253.76 961.09L1254.76 961.15L1255.76 961.38L1256.76 961.78L1257.76 962.33L1258.76 963.00L1259.76 963.79L1260.76 964.67L1261.76 965.63L1262.76 966.65L1263.73 967.70L1264.69 968.75L1265.64 969.81L1266.58 970.86L1267.53 971.90L1268.49 972.93L1269.47 973.93L1270.47 974.89L1271.47 975.76L1272.47 976.55L1273.47 977.22L1274.47 977.76L1275.47 978.15L1276.47 978.39L1277.47 978.44L1278.47 978.32L1279.47 978.03L1280.47 977.59L1281.47 977.02L1282.47 976.33L1283.47 975.54L1284.47 974.66L1285.47 973.71L1286.47 972.71L1287.45 971.68L1288.43 970.65L1289.39 969.61L1290.36 968.59L1291.33 967.57L1292.32 966.58L1293.32 965.63L1294.32 964.75L1295.32 963.96L1296.32 963.26L1297.32 962.68L1298.32 962.24L1299.32 961.94L1300.32 961.80L1301.32 961.85L1302.32 962.07L1303.32 962.46L1304.32 962.99L1305.32 963.66L1306.32 964.43L1307.32 965.31L1308.32 966.26L1309.32 967.28L1310.30 968.32L1311.26 969.38L1312.21 970.43L1313.15 971.49L1314.10 972.53L1315.06 973.55L1316.04 974.55L1317.04 975.52L1318.04 976.40L1319.04 977.19L1320.04 977.87L1321.04 978.42L1322.04 978.82L1323.04 979.07L1324.04 979.14L1325.04 979.02L1326.04 978.74L1327.04 978.31L1328.04 977.75L1329.04 977.07L1330.04 976.28L1331.04 975.41L1332.04 974.46L1333.04 973.46L1334.03 972.44L1335.00 971.40L1335.97 970.37L1336.93 969.34L1337.90 968.32L1338.89 967.33L1339.89 966.37L1340.89 965.48L1341.89 964.68L1342.89 963.98L1343.89 963.39L1344.89 962.93L1345.89 962.62L1346.89 962.48L1347.89 962.51L1348.89 962.72L1349.89 963.09L1350.89 963.62L1351.89 964.27L1352.89 965.04L1353.89 965.90L1354.89 966.85L1355.89 967.87L1356.87 968.91L1357.83 969.96L1358.78 971.01L1359.73 972.07L1360.68 973.11L1361.63 974.13L1362.61 975.14L1363.61 976.10L1364.61 976.99L1365.61 977.79L1366.61 978.47L1367.61 979.03L1368.61 979.45L1369.61 979.70L1370.61 979.78L1371.61 979.68L1372.61 979.41L1373.61 978.99L1374.61 978.43L1375.61 977.76L1376.61 976.98L1377.61 976.11L1378.61 975.17L1379.61 974.17L1380.60 973.14L1381.57 972.11L1382.54 971.07L1383.50 970.04L1384.47 969.02L1385.46 968.03L1386.46 967.07L1387.46 966.17L1388.46 965.36L1389.46 964.65L1390.46 964.05L1391.46 963.58L1392.46 963.26L1393.46 963.10L1394.46 963.12L1395.46 963.32L1396.46 963.68L1397.46 964.20L1398.46 964.84L1399.46 965.60L1400.46 966.46L1401.46 967.40L1402.46 968.41L1403.44 969.45L1404.40 970.50L1405.35 971.55L1406.30 972.60L1407.25 973.65L1408.21 974.67L1409.18 975.68L1410.18 976.64L1411.18 977.54L1412.18 978.34L1413.18 979.03L1414.18 979.60L1415.18 980.02L1416.18 980.29L1417.18 980.38L1418.18 980.29L1419.18 980.04L1420.18 979.62L1421.18 979.08L1422.18 978.41L1423.18 977.63L1424.18 976.77L1425.18 975.83L1426.18 974.84L1427.17 973.81L1428.15 972.77L1429.11 971.74L1430.07 970.70L1431.04 969.69L1432.03 968.69L1433.03 967.72L1434.03 966.82L1435.03 966.00L1436.03 965.28L1437.03 964.67L1438.03 964.19L1439.03 963.86L1440.03 963.69L1441.03 963.70L1442.03 963.88L1443.03 964.23L1444.03 964.74L1445.03 965.37L1446.03 966.12L1447.03 966.97L1448.03 967.91L1449.03 968.91L1450.01 969.95L1450.98 971.00L1451.93 972.05L1452.88 973.10L1453.82 974.15L1454.78 975.17L1455.76 976.18L1456.75 977.15L1457.75 978.05L1458.75 978.85L1459.75 979.55L1460.75 980.13L1461.75 980.56L1462.75 980.84L1463.75 980.95L1464.75 980.87L1465.75 980.62L1466.75 980.22L1467.75 979.68L1468.75 979.02L1469.75 978.25L1470.75 977.39L1471.75 976.45L1472.75 975.46L1473.74 974.43L1474.72 973.40L1475.68 972.36L1476.65 971.33L1477.62 970.31L1478.60 969.31L1479.60 968.33L1480.60 967.43L1481.60 966.60L1482.60 965.87L1483.60 965.25L1484.60 964.77L1485.60 964.42L1486.60 964.24L1487.60 964.23L1488.60 964.41L1489.60 964.75L1490.60 965.24L1491.60 965.86L1492.60 966.60L1493.60 967.45L1494.60 968.38L1495.60 969.37L1496.58 970.41L1497.55 971.46L1498.50 972.51L1499.45 973.56L1500.40 974.61L1501.36 975.64L1502.33 976.64L1503.33 977.61L1504.33 978.52L1505.33 979.33L1506.33 980.04L1507.33 980.62L1508.33 981.06L1509.33 981.35L1510.33 981.47L1511.33 981.40L1512.33 981.17L1513.33 980.77L1514.33 980.24L1515.33 979.59L1516.33 978.82L1517.33 977.97L1518.33 977.04L1519.33 976.05L1520.32 975.02L1521.29 973.99L1522.26 972.95L1523.22 971.91L1524.19 970.89L1525.17 969.89L1526.16 968.91L1527.16 968.00L1528.16 967.17L1529.16 966.43L1530.16 965.80L1531.16 965.30L1532.16 964.95L1533.16 964.75L1534.16 964.73L1535.16 964.90L1536.16 965.22L1537.16 965.70L1538.16 966.32L1539.16 967.05L1540.16 967.89L1541.16 968.81L1542.16 969.80L1543.15 970.84L1544.12 971.89L1545.08 972.94L1546.03 973.99L1546.98 975.03L1547.93 976.06L1548.90 977.07L1549.90 978.04L1550.90 978.95L1551.90 979.77L1552.90 980.48L1553.90 981.08L1554.90 981.53L1555.90 981.83L1556.90 981.96L1557.90 981.90L1558.90 981.68L1559.90 981.29L1560.90 980.77L1561.90 980.12L1562.90 979.37L1563.90 978.52L1564.90 977.59L1565.90 976.60L1566.89 975.58L1567.87 974.54L1568.83 973.50L1569.79 972.46L1570.76 971.44L1571.74 970.44L1572.73 969.46L1573.73 968.54L1574.73 967.70L1575.73 966.95L1576.73 966.32L1577.73 965.81L1578.73 965.44L1579.73 965.24L1580.73 965.20L1581.73 965.35L1582.73 965.67L1583.73 966.14L1584.73 966.74L1585.73 967.47L1586.73 968.30L1587.73 969.21L1588.73 970.20L1589.73 971.23L1590.70 972.28L1591.65 973.33L1592.60 974.38L1593.55 975.43L1594.51 976.46L1595.48 977.46L1596.47 978.44L1597.47 979.35L1598.47 980.18L1599.47 980.90L1600.47 981.50L1601.47 981.96L1602.47 982.27L1603.47 982.41L1604.47 982.37L1605.47 982.16L1606.47 981.78L1607.47 981.27L1608.47 980.63L1609.47 979.88L1610.47 979.03L1611.47 978.11L1612.47 977.12L1613.47 976.10L1614.44 975.06L1615.41 974.02L1616.37 972.99L1617.33 971.96L1618.31 970.95L1619.30 969.97L1620.30 969.05L1621.30 968.20L1622.30 967.45L1623.30 966.80L1624.30 966.29L1625.30 965.91L1626.30 965.69L1627.30 965.64L1628.30 965.78L1629.30 966.08L1630.30 966.54L1631.30 967.14L1632.30 967.86L1633.30 968.68L1634.30 969.59L1635.30 970.57L1636.30 971.60L1637.27 972.64L1638.23 973.69L1639.18 974.75L1640.13 975.79L1641.08 976.82L1642.05 977.83L1643.04 978.81L1644.04 979.73L1645.04 980.56L1646.04 981.28L1647.04 981.89L1648.04 982.36L1649.04 982.68L1650.04 982.84L1651.04 982.81L1652.04 982.60L1653.04 982.24L1654.04 981.73L1655.04 981.10L1656.04 980.36L1657.04 979.52L1658.04 978.60L1659.04 977.61L1660.04 976.59L1661.02 975.55L1661.98 974.51L1662.94 973.48L1663.91 972.45L1664.88 971.44L1665.87 970.46L1666.87 969.53L1667.87 968.67L1668.87 967.91L1669.87 967.26L1670.87 966.73L1671.87 966.34L1672.87 966.11L1673.87 966.05L1674.87 966.18L1675.87 966.47L1676.87 966.92L1677.87 967.50L1678.87 968.21L1679.87 969.03L1680.87 969.93L1681.87 970.91L1682.87 971.93L1683.84 972.98L1684.80 974.03L1685.75 975.08L1686.70 976.13L1687.66 977.16L1688.63 978.17L1689.62 979.15L1690.62 980.07L1691.62 980.91L1692.62 981.64L1693.62 982.25L1694.62 982.74L1695.62 983.07L1696.62 983.23L1697.62 983.21L1698.62 983.02L1699.62 982.67L1700.62 982.17L1701.62 981.54L1702.62 980.81L1703.62 979.97L1704.62 979.06L1705.62 978.08L1706.61 977.05L1707.59 976.02L1708.56 974.98L1709.52 973.94L1710.48 972.91L1711.45 971.90L1712.44 970.91L1713.44 969.98L1714.44 969.12L1715.44 968.35L1716.44 967.69L1717.44 967.15L1718.44 966.75L1719.44 966.51L1720.44 966.44L1721.44 966.55L1722.44 966.83L1723.44 967.27L1724.44 967.85L1725.44 968.55L1726.44 969.35L1727.44 970.25L1728.44 971.22L1729.44 972.25L1730.42 973.29L1731.38 974.34L1732.33 975.39L1733.28 976.43L1734.23 977.47L1735.20 978.48L1736.19 979.46L1737.19 980.39L1738.19 981.23L1739.19 981.97L1740.19 982.59L1741.19 983.08L1742.19 983.42L1743.19 983.60L1744.19 983.59L1745.19 983.41L1746.19 983.07L1747.19 982.58L1748.19 981.96L1749.19 981.23L1750.19 980.40L1751.19 979.49L1752.19 978.51L1753.19 977.49L1754.17 976.45L1755.13 975.41L1756.09 974.37L1757.06 973.34L1758.03 972.33L1759.02 971.34L1760.02 970.40L1761.02 969.53L1762.02 968.76L1763.02 968.09L1764.02 967.54L1765.02 967.13L1766.02 966.88L1767.02 966.80L1768.02 966.90L1769.02 967.17L1770.02 967.59L1771.02 968.16L1772.02 968.85L1773.02 969.65L1774.02 970.54L1775.02 971.51L1776.02 972.53L1776.99 973.58L1777.95 974.62L1778.91 975.68L1779.86 976.72L1780.81 977.75L1781.78 978.77L1782.77 979.75L1783.77 980.68L1784.77 981.53L1785.77 982.27L1786.77 982.91L1787.77 983.40L1788.77 983.76L1789.77 983.94L1790.77 983.95L1791.77 983.78L1792.77 983.44L1793.77 982.96L1794.77 982.35L1795.77 981.63L1796.77 980.80L1797.77 979.90L1798.77 978.92L1799.77 977.90L1800.74 976.86L1801.71 975.82L1802.67 974.78L1803.63 973.75L1804.60 972.74L1805.59 971.75L1806.59 970.80L1807.59 969.93L1808.59 969.15L1809.59 968.47L1810.59 967.91L1811.59 967.49L1812.59 967.23L1813.59 967.13L1814.59 967.22L1815.59 967.48L1816.59 967.90L1817.59 968.46L1818.59 969.14L1819.59 969.93L1820.59 970.82L1821.59 971.78L1822.59 972.80L1823.57 973.84L1824.53 974.89L1825.48 975.94L1826.43 976.98L1827.39 978.02L1828.36 979.03L1829.34 980.02L1830.34 980.95L1831.34 981.80L1832.34 982.56L1833.34 983.19L1834.34 983.70L1835.34 984.06L1836.34 984.26L1837.34 984.28L1838.34 984.12L1839.34 983.79L1840.34 983.32L1841.34 982.72L1842.34 982.00L1843.34 981.18L1844.34 980.28L1845.34 979.31L1846.34 978.29L1847.32 977.25L1848.29 976.21L1849.25 975.17L1850.21 974.14L1851.18 973.12L1852.16 972.13L1853.16 971.18L1854.16 970.30L1855.16 969.51L1856.16 968.82L1857.16 968.26L1858.16 967.83L1859.16 967.56L1860.16 967.45L1861.16 967.52L1862.16 967.77L1863.16 968.18L1864.16 968.73L1865.16 969.40L1866.16 970.19L1867.16 971.07L1868.16 972.02L1869.16 973.04L1870.14 974.08L1871.11 975.13L1872.06 976.18L1873.01 977.22L1873.97 978.26L1874.93 979.27L1875.92 980.26L1876.92 981.20L1877.92 982.06L1878.92 982.82L1879.92 983.46L1880.92 983.98L1881.92 984.35L1882.92 984.56L1883.92 984.59L1884.92 984.44L1885.92 984.12L1886.92 983.66L1887.92 983.06L1888.92 982.35L1889.92 981.54L1890.92 980.64L1891.92 979.67L1892.92 978.65L1893.90 977.62L1894.86 976.58L1895.82 975.54L1896.79 974.50L1897.75 973.49L1898.74 972.49L1899.74 971.54L1900.74 970.65L1901.74 969.85L1902.74 969.16L1903.74 968.59L1904.74 968.15L1905.74 967.86L1906.74 967.74L1907.74 967.81L1908.74 968.04L1909.74 968.44L1910.74 968.98L1911.74 969.65L1912.74 970.43L1913.74 971.30L1914.74 972.25L1915.74 973.26L1916.72 974.30L1917.68 975.35L1918.64 976.40L1919.59 977.44L1920.54 978.48L1921.51 979.49L1922.49 980.48L1923.49 981.43L1924.49 982.29L1925.49 983.05L1926.49 983.71L1927.49 984.23L1928.49 984.61L1929.49 984.83L1930.49 984.87L1931.49 984.74L1932.49 984.43L1933.49 983.98L1934.49 983.39L1935.49 982.68L1936.49 981.88L1937.49 980.98L1938.49 980.02L1939.49 979.00L1940.47 977.97L1941.44 976.93L1942.40 975.88L1943.36 974.85L1944.33 973.83L1945.31 972.84L1946.31 971.87L1947.31 970.98L1948.31 970.18L1949.31 969.48L1950.31 968.90L1951.31 968.45L1952.31 968.15L1953.31 968.02L1954.31 968.07L1955.31 968.30L1956.31 968.68L1957.31 969.22L1958.31 969.87L1959.31 970.64L1960.31 971.51L1961.31 972.45L1962.31 973.46L1963.29 974.50L1964.26 975.55L1965.21 976.60L1966.16 977.64L1967.12 978.68L1968.09 979.70L1969.07 980.69L1970.07 981.63L1971.07 982.50L1972.07 983.27L1973.07 983.94L1974.07 984.47L1975.07 984.86L1976.07 985.09L1977.07 985.14L1978.07 985.02L1979.07 984.72L1980.07 984.28L1981.07 983.70L1982.07 983.00L1983.07 982.20L1984.07 981.31L1985.07 980.35L1986.07 979.33L1987.05 978.30L1988.02 977.26L1988.98 976.21L1989.94 975.18L1990.90 974.16L1991.88 973.16L1992.88 972.20L1993.88 971.30L1994.88 970.49L1995.88 969.78L1996.88 969.19L1997.88 968.73L1998.88 968.42L1999.88 968.28L2000.88 968.32L2001.88 968.53L2002.88 968.91L2003.88 969.43L2004.88 970.08L2005.88 970.84L2006.88 971.70L2007.88 972.64L2008.88 973.65L2009.87 974.68L2010.83 975.73L2011.79 976.78L2012.74 977.83L2013.70 978.86L2014.66 979.88L2015.64 980.87L2016.64 981.82L2017.64 982.70L2018.64 983.48L2019.64 984.14L2020.64 984.69L2021.64 985.09L2022.64 985.33L2023.64 985.39L2024.64 985.28L2025.64 984.99L2026.64 984.56L2027.64 983.99L2028.64 983.29L2029.64 982.50L2030.64 981.61L2031.64 980.66L2032.64 979.64L2033.63 978.61L2034.59 977.57L2035.55 976.53L2036.51 975.49L2037.48 974.47L2038.46 973.47L2039.46 972.50L2040.46 971.60L2041.46 970.78L2042.46 970.06L2043.46 969.46L2044.46 969.00L2045.46 968.68L2046.46 968.52L2047.46 968.55L2048.46 968.75L2049.46 969.12L2050.46 969.63L2051.46 970.27L2052.46 971.03L2053.46 971.88L2054.46 972.82L2055.46 973.82L2056.44 974.85L2057.41 975.90L2058.37 976.95L2059.32 977.99L2060.27 979.03L2061.24 980.05L2062.22 981.04L2063.22 982.00L2064.22 982.88L2065.22 983.66L2066.22 984.34L2067.22 984.89L2068.22 985.30L2069.22 985.55L2070.22 985.63L2071.22 985.52L2072.22 985.25L2073.22 984.82L2074.22 984.26L2075.22 983.57L2076.22 982.78L2077.22 981.90L2078.22 980.95L2079.22 979.94L2080.20 978.91L2081.17 977.86L2082.13 976.82L2083.09 975.79L2084.05 974.76L2085.03 973.76L2086.03 972.79L2087.03 971.88L2088.03 971.06L2089.03 970.33L2090.03 969.72L2091.03 969.25L2092.03 968.92L2093.03 968.75L2094.03 968.77L2095.03 968.95L2096.03 969.27L2097.03 969.72L2098.03 970.26L2099.03 970.87L2100.03 971.52L2101.03 972.19L2102.03 972.97L2103.03 974.01L2103.97 975.12L2104.87 976.22L2105.78 977.27L2106.74 978.31L2107.68 979.37L2108.63 980.40L2109.60 981.39L2110.60 982.28L2111.60 983.12L2112.60 983.93L2113.60 984.63L2114.60 985.14L2115.60 985.42L2116.60 985.64L2117.60 985.80L2118.60 985.89L2119.60 985.90L2120.60 985.90L2121.60 985.90L2122.60 985.90L2123.40 985.90"/>
</g>
<rect x="1697.0" y="136.0" width="380.0" height="151.0" fill="#fff" stroke="#262626" stroke-width="2" shape-rendering="crispEdges"/>
<line x1="1713.0" y1="178.0" x2="1885.5" y2="178.0" stroke="#0072BD" stroke-width="2.1"/>
<line x1="1713.0" y1="246.5" x2="1885.5" y2="246.5" stroke="#D95319" stroke-width="2.1"/>
<text transform="translate(1896.50 200.80) scale(1 1.02)" font-size="52.50" text-anchor="start" class="k">w.o.FC</text>
<text transform="translate(1896.50 266.80) scale(1 1.02)" font-size="52.50" text-anchor="start" class="k">cFC</text>
</svg></body></html>
